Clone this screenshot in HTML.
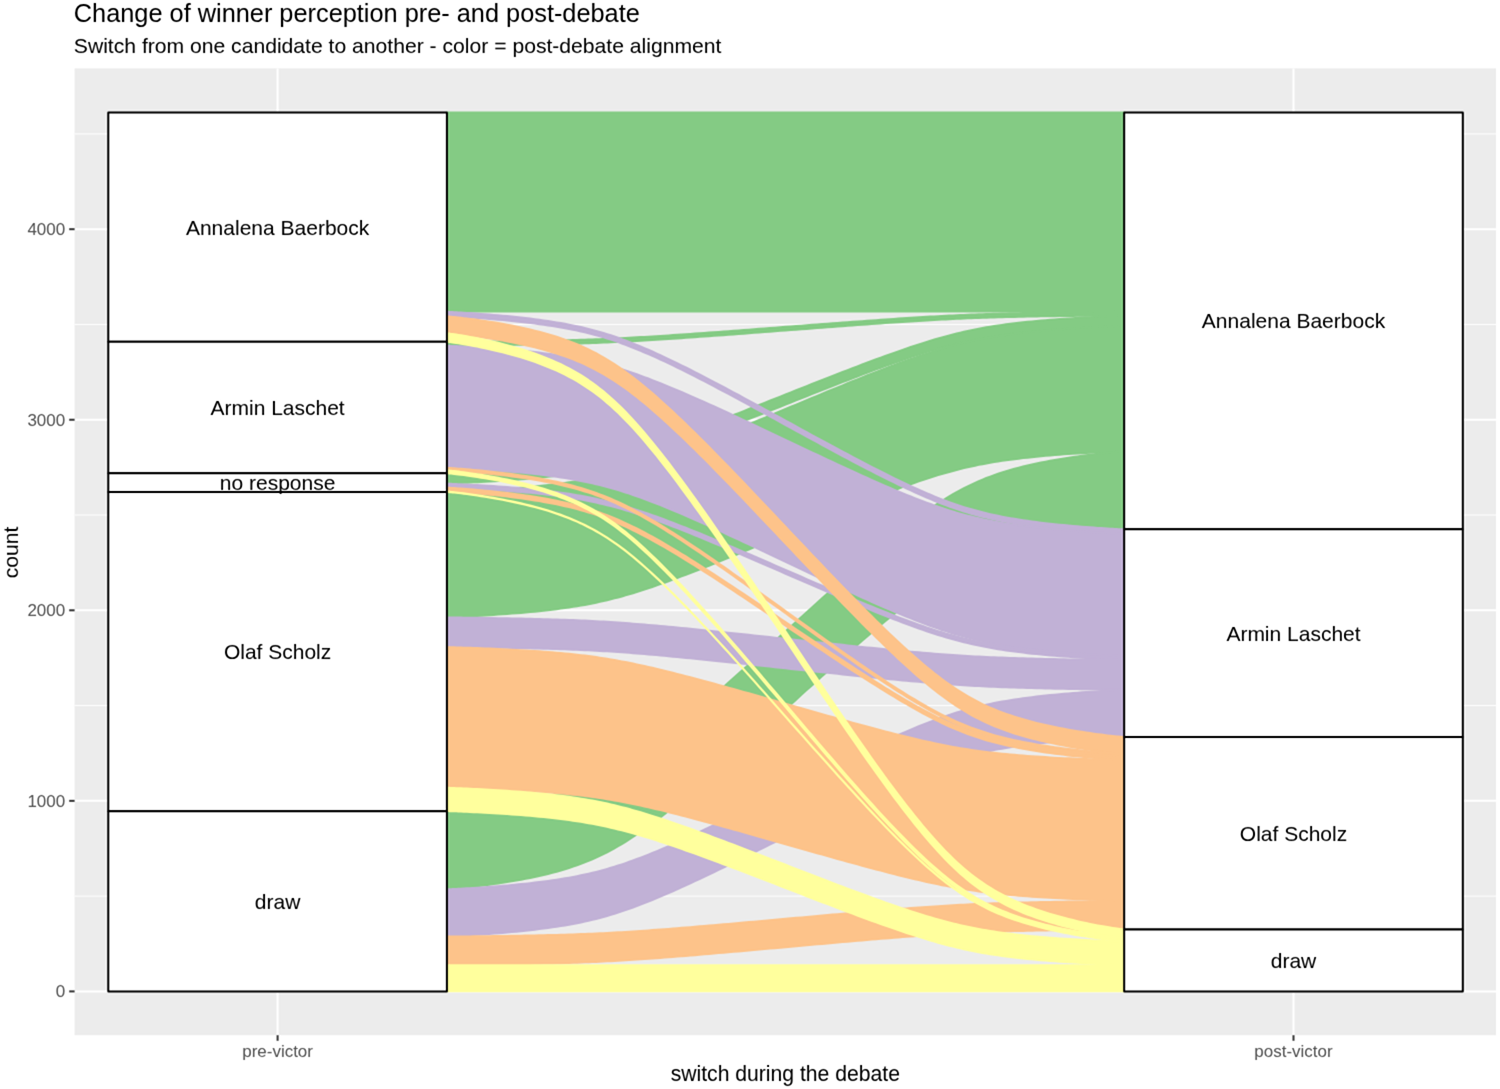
<!DOCTYPE html><html><head><meta charset="utf-8"><style>html,body{margin:0;padding:0;background:#fff;overflow:hidden;width:1500px;height:1089px;}svg{display:block;}text{font-family:"Liberation Sans",sans-serif;}</style></head><body>
<svg width="1500" height="1089" viewBox="0 0 1500 1089">
<defs><filter id="bl" x="0" y="0" width="1500" height="1089" filterUnits="userSpaceOnUse" color-interpolation-filters="sRGB"><feConvolveMatrix order="5" kernelMatrix="0.00250 -0.00850 -0.03800 -0.00850 0.00250 -0.00850 0.02890 0.12920 0.02890 -0.00850 -0.03800 0.12920 0.57760 0.12920 -0.03800 -0.00850 0.02890 0.12920 0.02890 -0.00850 0.00250 -0.00850 -0.03800 -0.00850 0.00250" divisor="1" edgeMode="duplicate"/></filter></defs>
<g filter="url(#bl)">
<rect x="0" y="0" width="1500" height="1089" fill="#fff"/>
<rect x="74.60" y="68.40" width="1421.40" height="966.80" fill="#ECECEC"/>
<line x1="74.60" x2="1496.00" y1="896.12" y2="896.12" stroke="#fff" stroke-width="1.0"/>
<line x1="74.60" x2="1496.00" y1="705.58" y2="705.58" stroke="#fff" stroke-width="1.0"/>
<line x1="74.60" x2="1496.00" y1="515.02" y2="515.02" stroke="#fff" stroke-width="1.0"/>
<line x1="74.60" x2="1496.00" y1="324.48" y2="324.48" stroke="#fff" stroke-width="1.0"/>
<line x1="74.60" x2="1496.00" y1="133.92" y2="133.92" stroke="#fff" stroke-width="1.0"/>
<line x1="74.60" x2="1496.00" y1="991.40" y2="991.40" stroke="#fff" stroke-width="2.0"/>
<line x1="74.60" x2="1496.00" y1="800.85" y2="800.85" stroke="#fff" stroke-width="2.0"/>
<line x1="74.60" x2="1496.00" y1="610.30" y2="610.30" stroke="#fff" stroke-width="2.0"/>
<line x1="74.60" x2="1496.00" y1="419.75" y2="419.75" stroke="#fff" stroke-width="2.0"/>
<line x1="74.60" x2="1496.00" y1="229.20" y2="229.20" stroke="#fff" stroke-width="2.0"/>
<line x1="277.60" x2="277.60" y1="68.40" y2="1035.20" stroke="#fff" stroke-width="2.0"/>
<line x1="1293.50" x2="1293.50" y1="68.40" y2="1035.20" stroke="#fff" stroke-width="2.0"/>
<path d="M446.92,112.39 L446.92,112.39 L446.97,112.39 L447.09,112.39 L447.32,112.39 L447.70,112.39 L448.24,112.39 L448.97,112.39 L449.92,112.39 L451.11,112.39 L452.55,112.39 L454.24,112.39 L456.21,112.39 L458.44,112.39 L460.94,112.39 L463.71,112.39 L466.73,112.39 L469.99,112.39 L473.48,112.39 L477.18,112.39 L481.07,112.39 L485.12,112.39 L489.33,112.39 L493.65,112.39 L498.07,112.39 L502.57,112.39 L507.13,112.39 L511.73,112.39 L516.34,112.39 L520.96,112.39 L525.57,112.39 L530.15,112.39 L534.70,112.39 L539.20,112.39 L543.65,112.39 L548.04,112.39 L552.37,112.39 L556.64,112.39 L560.84,112.39 L564.98,112.39 L569.06,112.39 L573.07,112.39 L577.02,112.39 L580.93,112.39 L584.78,112.39 L588.59,112.39 L592.35,112.39 L596.09,112.39 L599.79,112.39 L603.48,112.39 L607.15,112.39 L610.82,112.39 L614.48,112.39 L618.15,112.39 L621.83,112.39 L625.52,112.39 L629.24,112.39 L632.99,112.39 L636.77,112.39 L640.59,112.39 L644.45,112.39 L648.35,112.39 L652.30,112.39 L656.30,112.39 L660.35,112.39 L664.46,112.39 L668.62,112.39 L672.85,112.39 L677.14,112.39 L681.49,112.39 L685.90,112.39 L690.38,112.39 L694.93,112.39 L699.54,112.39 L704.21,112.39 L708.95,112.39 L713.74,112.39 L718.60,112.39 L723.51,112.39 L728.48,112.39 L733.49,112.39 L738.56,112.39 L743.66,112.39 L748.81,112.39 L753.99,112.39 L759.20,112.39 L764.44,112.39 L769.70,112.39 L774.97,112.39 L780.26,112.39 L785.55,112.39 L790.84,112.39 L796.13,112.39 L801.40,112.39 L806.66,112.39 L811.90,112.39 L817.11,112.39 L822.29,112.39 L827.44,112.39 L832.54,112.39 L837.61,112.39 L842.62,112.39 L847.59,112.39 L852.50,112.39 L857.36,112.39 L862.15,112.39 L866.89,112.39 L871.56,112.39 L876.17,112.39 L880.72,112.39 L885.20,112.39 L889.61,112.39 L893.96,112.39 L898.25,112.39 L902.48,112.39 L906.64,112.39 L910.75,112.39 L914.80,112.39 L918.80,112.39 L922.75,112.39 L926.65,112.39 L930.51,112.39 L934.33,112.39 L938.11,112.39 L941.86,112.39 L945.58,112.39 L949.27,112.39 L952.95,112.39 L956.62,112.39 L960.28,112.39 L963.95,112.39 L967.62,112.39 L971.31,112.39 L975.01,112.39 L978.75,112.39 L982.51,112.39 L986.32,112.39 L990.17,112.39 L994.08,112.39 L998.03,112.39 L1002.04,112.39 L1006.12,112.39 L1010.26,112.39 L1014.46,112.39 L1018.73,112.39 L1023.06,112.39 L1027.45,112.39 L1031.90,112.39 L1036.40,112.39 L1040.95,112.39 L1045.53,112.39 L1050.14,112.39 L1054.76,112.39 L1059.37,112.39 L1063.97,112.39 L1068.53,112.39 L1073.03,112.39 L1077.45,112.39 L1081.77,112.39 L1085.98,112.39 L1090.03,112.39 L1093.92,112.39 L1097.62,112.39 L1101.11,112.39 L1104.37,112.39 L1107.39,112.39 L1110.16,112.39 L1112.66,112.39 L1114.89,112.39 L1116.86,112.39 L1118.55,112.39 L1119.99,112.39 L1121.18,112.39 L1122.13,112.39 L1122.86,112.39 L1123.40,112.39 L1123.78,112.39 L1124.01,112.39 L1124.13,112.39 L1124.18,112.39 L1124.18,112.39 L1124.18,311.71 L1124.18,311.71 L1124.13,311.71 L1124.01,311.71 L1123.78,311.71 L1123.40,311.71 L1122.86,311.71 L1122.13,311.71 L1121.18,311.71 L1119.99,311.71 L1118.55,311.71 L1116.86,311.71 L1114.89,311.71 L1112.66,311.71 L1110.16,311.71 L1107.39,311.71 L1104.37,311.71 L1101.11,311.71 L1097.62,311.71 L1093.92,311.71 L1090.03,311.71 L1085.98,311.71 L1081.77,311.71 L1077.45,311.71 L1073.03,311.71 L1068.53,311.71 L1063.97,311.71 L1059.37,311.71 L1054.76,311.71 L1050.14,311.71 L1045.53,311.71 L1040.95,311.71 L1036.40,311.71 L1031.90,311.71 L1027.45,311.71 L1023.06,311.71 L1018.73,311.71 L1014.46,311.71 L1010.26,311.71 L1006.12,311.71 L1002.04,311.71 L998.03,311.71 L994.08,311.71 L990.17,311.71 L986.32,311.71 L982.51,311.71 L978.75,311.71 L975.01,311.71 L971.31,311.71 L967.62,311.71 L963.95,311.71 L960.28,311.71 L956.62,311.71 L952.95,311.71 L949.27,311.71 L945.58,311.71 L941.86,311.71 L938.11,311.71 L934.33,311.71 L930.51,311.71 L926.65,311.71 L922.75,311.71 L918.80,311.71 L914.80,311.71 L910.75,311.71 L906.64,311.71 L902.48,311.71 L898.25,311.71 L893.96,311.71 L889.61,311.71 L885.20,311.71 L880.72,311.71 L876.17,311.71 L871.56,311.71 L866.89,311.71 L862.15,311.71 L857.36,311.71 L852.50,311.71 L847.59,311.71 L842.62,311.71 L837.61,311.71 L832.54,311.71 L827.44,311.71 L822.29,311.71 L817.11,311.71 L811.90,311.71 L806.66,311.71 L801.40,311.71 L796.13,311.71 L790.84,311.71 L785.55,311.71 L780.26,311.71 L774.97,311.71 L769.70,311.71 L764.44,311.71 L759.20,311.71 L753.99,311.71 L748.81,311.71 L743.66,311.71 L738.56,311.71 L733.49,311.71 L728.48,311.71 L723.51,311.71 L718.60,311.71 L713.74,311.71 L708.95,311.71 L704.21,311.71 L699.54,311.71 L694.93,311.71 L690.38,311.71 L685.90,311.71 L681.49,311.71 L677.14,311.71 L672.85,311.71 L668.62,311.71 L664.46,311.71 L660.35,311.71 L656.30,311.71 L652.30,311.71 L648.35,311.71 L644.45,311.71 L640.59,311.71 L636.77,311.71 L632.99,311.71 L629.24,311.71 L625.52,311.71 L621.83,311.71 L618.15,311.71 L614.48,311.71 L610.82,311.71 L607.15,311.71 L603.48,311.71 L599.79,311.71 L596.09,311.71 L592.35,311.71 L588.59,311.71 L584.78,311.71 L580.93,311.71 L577.02,311.71 L573.07,311.71 L569.06,311.71 L564.98,311.71 L560.84,311.71 L556.64,311.71 L552.37,311.71 L548.04,311.71 L543.65,311.71 L539.20,311.71 L534.70,311.71 L530.15,311.71 L525.57,311.71 L520.96,311.71 L516.34,311.71 L511.73,311.71 L507.13,311.71 L502.57,311.71 L498.07,311.71 L493.65,311.71 L489.33,311.71 L485.12,311.71 L481.07,311.71 L477.18,311.71 L473.48,311.71 L469.99,311.71 L466.73,311.71 L463.71,311.71 L460.94,311.71 L458.44,311.71 L456.21,311.71 L454.24,311.71 L452.55,311.71 L451.11,311.71 L449.92,311.71 L448.97,311.71 L448.24,311.71 L447.70,311.71 L447.32,311.71 L447.09,311.71 L446.97,311.71 L446.92,311.71 L446.92,311.71Z" fill="#84CB84" stroke="#84CB84" stroke-width="1.80" stroke-linejoin="round"/>
<path d="M446.92,341.82 L446.92,341.82 L446.97,341.81 L447.09,341.81 L447.32,341.81 L447.70,341.81 L448.24,341.81 L448.97,341.80 L449.92,341.80 L451.11,341.79 L452.55,341.78 L454.24,341.77 L456.21,341.75 L458.44,341.73 L460.94,341.71 L463.71,341.69 L466.73,341.66 L469.99,341.64 L473.48,341.60 L477.18,341.57 L481.07,341.53 L485.12,341.48 L489.33,341.44 L493.65,341.39 L498.07,341.34 L502.57,341.28 L507.13,341.22 L511.73,341.16 L516.34,341.09 L520.96,341.02 L525.57,340.95 L530.15,340.87 L534.70,340.80 L539.20,340.71 L543.65,340.63 L548.04,340.54 L552.37,340.45 L556.64,340.35 L560.84,340.25 L564.98,340.15 L569.06,340.04 L573.07,339.93 L577.02,339.82 L580.93,339.70 L584.78,339.58 L588.59,339.45 L592.35,339.31 L596.09,339.18 L599.79,339.03 L603.48,338.88 L607.15,338.73 L610.82,338.57 L614.48,338.40 L618.15,338.22 L621.83,338.04 L625.52,337.85 L629.24,337.66 L632.99,337.45 L636.77,337.24 L640.59,337.02 L644.45,336.80 L648.35,336.56 L652.30,336.32 L656.30,336.07 L660.35,335.82 L664.46,335.55 L668.62,335.28 L672.85,335.00 L677.14,334.71 L681.49,334.42 L685.90,334.11 L690.38,333.80 L694.93,333.48 L699.54,333.15 L704.21,332.82 L708.95,332.48 L713.74,332.13 L718.60,331.78 L723.51,331.42 L728.48,331.05 L733.49,330.68 L738.56,330.30 L743.66,329.92 L748.81,329.54 L753.99,329.15 L759.20,328.75 L764.44,328.36 L769.70,327.96 L774.97,327.56 L780.26,327.16 L785.55,326.76 L790.84,326.36 L796.13,325.96 L801.40,325.56 L806.66,325.16 L811.90,324.77 L817.11,324.38 L822.29,323.99 L827.44,323.60 L832.54,323.22 L837.61,322.84 L842.62,322.47 L847.59,322.11 L852.50,321.75 L857.36,321.39 L862.15,321.04 L866.89,320.70 L871.56,320.37 L876.17,320.04 L880.72,319.72 L885.20,319.41 L889.61,319.11 L893.96,318.81 L898.25,318.52 L902.48,318.24 L906.64,317.97 L910.75,317.71 L914.80,317.45 L918.80,317.20 L922.75,316.96 L926.65,316.73 L930.51,316.50 L934.33,316.28 L938.11,316.07 L941.86,315.87 L945.58,315.67 L949.27,315.48 L952.95,315.30 L956.62,315.13 L960.28,314.96 L963.95,314.80 L967.62,314.64 L971.31,314.49 L975.01,314.35 L978.75,314.21 L982.51,314.08 L986.32,313.95 L990.17,313.82 L994.08,313.70 L998.03,313.59 L1002.04,313.48 L1006.12,313.37 L1010.26,313.27 L1014.46,313.17 L1018.73,313.08 L1023.06,312.98 L1027.45,312.89 L1031.90,312.81 L1036.40,312.73 L1040.95,312.65 L1045.53,312.57 L1050.14,312.50 L1054.76,312.43 L1059.37,312.37 L1063.97,312.30 L1068.53,312.24 L1073.03,312.19 L1077.45,312.13 L1081.77,312.08 L1085.98,312.04 L1090.03,312.00 L1093.92,311.96 L1097.62,311.92 L1101.11,311.89 L1104.37,311.86 L1107.39,311.83 L1110.16,311.81 L1112.66,311.79 L1114.89,311.77 L1116.86,311.76 L1118.55,311.74 L1119.99,311.73 L1121.18,311.73 L1122.13,311.72 L1122.86,311.72 L1123.40,311.71 L1123.78,311.71 L1124.01,311.71 L1124.13,311.71 L1124.18,311.71 L1124.18,311.71 L1124.18,315.52 L1124.18,315.52 L1124.13,315.52 L1124.01,315.52 L1123.78,315.52 L1123.40,315.52 L1122.86,315.53 L1122.13,315.53 L1121.18,315.54 L1119.99,315.55 L1118.55,315.56 L1116.86,315.57 L1114.89,315.58 L1112.66,315.60 L1110.16,315.62 L1107.39,315.64 L1104.37,315.67 L1101.11,315.70 L1097.62,315.73 L1093.92,315.77 L1090.03,315.81 L1085.98,315.85 L1081.77,315.90 L1077.45,315.95 L1073.03,316.00 L1068.53,316.05 L1063.97,316.11 L1059.37,316.18 L1054.76,316.24 L1050.14,316.31 L1045.53,316.38 L1040.95,316.46 L1036.40,316.54 L1031.90,316.62 L1027.45,316.71 L1023.06,316.79 L1018.73,316.89 L1014.46,316.98 L1010.26,317.08 L1006.12,317.18 L1002.04,317.29 L998.03,317.40 L994.08,317.52 L990.17,317.63 L986.32,317.76 L982.51,317.89 L978.75,318.02 L975.01,318.16 L971.31,318.30 L967.62,318.45 L963.95,318.61 L960.28,318.77 L956.62,318.94 L952.95,319.11 L949.27,319.29 L945.58,319.48 L941.86,319.68 L938.11,319.88 L934.33,320.09 L930.51,320.31 L926.65,320.54 L922.75,320.77 L918.80,321.01 L914.80,321.26 L910.75,321.52 L906.64,321.78 L902.48,322.05 L898.25,322.33 L893.96,322.62 L889.61,322.92 L885.20,323.22 L880.72,323.53 L876.17,323.85 L871.56,324.18 L866.89,324.51 L862.15,324.85 L857.36,325.20 L852.50,325.56 L847.59,325.92 L842.62,326.28 L837.61,326.65 L832.54,327.03 L827.44,327.41 L822.29,327.80 L817.11,328.19 L811.90,328.58 L806.66,328.98 L801.40,329.37 L796.13,329.77 L790.84,330.17 L785.55,330.57 L780.26,330.97 L774.97,331.37 L769.70,331.77 L764.44,332.17 L759.20,332.57 L753.99,332.96 L748.81,333.35 L743.66,333.73 L738.56,334.11 L733.49,334.49 L728.48,334.86 L723.51,335.23 L718.60,335.59 L713.74,335.94 L708.95,336.29 L704.21,336.63 L699.54,336.96 L694.93,337.29 L690.38,337.61 L685.90,337.92 L681.49,338.23 L677.14,338.52 L672.85,338.81 L668.62,339.09 L664.46,339.36 L660.35,339.63 L656.30,339.88 L652.30,340.13 L648.35,340.37 L644.45,340.61 L640.59,340.83 L636.77,341.05 L632.99,341.26 L629.24,341.47 L625.52,341.66 L621.83,341.85 L618.15,342.03 L614.48,342.21 L610.82,342.38 L607.15,342.54 L603.48,342.69 L599.79,342.84 L596.09,342.99 L592.35,343.13 L588.59,343.26 L584.78,343.39 L580.93,343.51 L577.02,343.63 L573.07,343.74 L569.06,343.86 L564.98,343.96 L560.84,344.06 L556.64,344.16 L552.37,344.26 L548.04,344.35 L543.65,344.44 L539.20,344.53 L534.70,344.61 L530.15,344.69 L525.57,344.76 L520.96,344.83 L516.34,344.90 L511.73,344.97 L507.13,345.03 L502.57,345.09 L498.07,345.15 L493.65,345.20 L489.33,345.25 L485.12,345.30 L481.07,345.34 L477.18,345.38 L473.48,345.41 L469.99,345.45 L466.73,345.48 L463.71,345.50 L460.94,345.52 L458.44,345.54 L456.21,345.56 L454.24,345.58 L452.55,345.59 L451.11,345.60 L449.92,345.61 L448.97,345.61 L448.24,345.62 L447.70,345.62 L447.32,345.62 L447.09,345.63 L446.97,345.63 L446.92,345.63 L446.92,345.63Z" fill="#84CB84" stroke="#84CB84" stroke-width="1.80" stroke-linejoin="round"/>
<path d="M446.92,473.29 L446.92,473.29 L446.97,473.29 L447.09,473.29 L447.32,473.28 L447.70,473.27 L448.24,473.25 L448.97,473.23 L449.92,473.20 L451.11,473.15 L452.55,473.10 L454.24,473.04 L456.21,472.96 L458.44,472.87 L460.94,472.76 L463.71,472.64 L466.73,472.51 L469.99,472.35 L473.48,472.18 L477.18,471.99 L481.07,471.79 L485.12,471.56 L489.33,471.32 L493.65,471.06 L498.07,470.79 L502.57,470.49 L507.13,470.18 L511.73,469.85 L516.34,469.51 L520.96,469.14 L525.57,468.76 L530.15,468.37 L534.70,467.95 L539.20,467.52 L543.65,467.08 L548.04,466.61 L552.37,466.13 L556.64,465.63 L560.84,465.11 L564.98,464.57 L569.06,464.01 L573.07,463.43 L577.02,462.83 L580.93,462.21 L584.78,461.56 L588.59,460.89 L592.35,460.19 L596.09,459.47 L599.79,458.71 L603.48,457.93 L607.15,457.11 L610.82,456.27 L614.48,455.39 L618.15,454.47 L621.83,453.52 L625.52,452.53 L629.24,451.50 L632.99,450.44 L636.77,449.33 L640.59,448.18 L644.45,447.00 L648.35,445.77 L652.30,444.51 L656.30,443.20 L660.35,441.86 L664.46,440.47 L668.62,439.05 L672.85,437.58 L677.14,436.07 L681.49,434.51 L685.90,432.92 L690.38,431.29 L694.93,429.62 L699.54,427.91 L704.21,426.16 L708.95,424.37 L713.74,422.55 L718.60,420.69 L723.51,418.81 L728.48,416.89 L733.49,414.94 L738.56,412.97 L743.66,410.97 L748.81,408.95 L753.99,406.91 L759.20,404.85 L764.44,402.78 L769.70,400.70 L774.97,398.60 L780.26,396.51 L785.55,394.41 L790.84,392.31 L796.13,390.21 L801.40,388.12 L806.66,386.03 L811.90,383.96 L817.11,381.91 L822.29,379.87 L827.44,377.85 L832.54,375.85 L837.61,373.87 L842.62,371.93 L847.59,370.01 L852.50,368.12 L857.36,366.26 L862.15,364.44 L866.89,362.66 L871.56,360.91 L876.17,359.20 L880.72,357.52 L885.20,355.89 L889.61,354.30 L893.96,352.75 L898.25,351.24 L902.48,349.77 L906.64,348.34 L910.75,346.95 L914.80,345.61 L918.80,344.30 L922.75,343.04 L926.65,341.82 L930.51,340.63 L934.33,339.48 L938.11,338.38 L941.86,337.31 L945.58,336.28 L949.27,335.29 L952.95,334.34 L956.62,333.43 L960.28,332.55 L963.95,331.70 L967.62,330.88 L971.31,330.10 L975.01,329.35 L978.75,328.62 L982.51,327.92 L986.32,327.25 L990.17,326.60 L994.08,325.98 L998.03,325.38 L1002.04,324.80 L1006.12,324.24 L1010.26,323.70 L1014.46,323.18 L1018.73,322.68 L1023.06,322.20 L1027.45,321.74 L1031.90,321.29 L1036.40,320.86 L1040.95,320.45 L1045.53,320.05 L1050.14,319.67 L1054.76,319.31 L1059.37,318.96 L1063.97,318.63 L1068.53,318.32 L1073.03,318.03 L1077.45,317.75 L1081.77,317.49 L1085.98,317.25 L1090.03,317.03 L1093.92,316.82 L1097.62,316.63 L1101.11,316.46 L1104.37,316.31 L1107.39,316.17 L1110.16,316.05 L1112.66,315.94 L1114.89,315.85 L1116.86,315.78 L1118.55,315.71 L1119.99,315.66 L1121.18,315.62 L1122.13,315.58 L1122.86,315.56 L1123.40,315.54 L1123.78,315.53 L1124.01,315.52 L1124.13,315.52 L1124.18,315.52 L1124.18,315.52 L1124.18,325.81 L1124.18,325.81 L1124.13,325.81 L1124.01,325.81 L1123.78,325.82 L1123.40,325.83 L1122.86,325.85 L1122.13,325.87 L1121.18,325.91 L1119.99,325.95 L1118.55,326.00 L1116.86,326.07 L1114.89,326.14 L1112.66,326.23 L1110.16,326.34 L1107.39,326.46 L1104.37,326.60 L1101.11,326.75 L1097.62,326.92 L1093.92,327.11 L1090.03,327.32 L1085.98,327.54 L1081.77,327.78 L1077.45,328.04 L1073.03,328.32 L1068.53,328.61 L1063.97,328.92 L1059.37,329.25 L1054.76,329.60 L1050.14,329.96 L1045.53,330.34 L1040.95,330.74 L1036.40,331.15 L1031.90,331.58 L1027.45,332.03 L1023.06,332.49 L1018.73,332.97 L1014.46,333.47 L1010.26,333.99 L1006.12,334.53 L1002.04,335.09 L998.03,335.67 L994.08,336.27 L990.17,336.89 L986.32,337.54 L982.51,338.21 L978.75,338.91 L975.01,339.64 L971.31,340.39 L967.62,341.17 L963.95,341.99 L960.28,342.84 L956.62,343.72 L952.95,344.63 L949.27,345.58 L945.58,346.57 L941.86,347.60 L938.11,348.67 L934.33,349.77 L930.51,350.92 L926.65,352.10 L922.75,353.33 L918.80,354.59 L914.80,355.90 L910.75,357.24 L906.64,358.63 L902.48,360.06 L898.25,361.53 L893.96,363.04 L889.61,364.59 L885.20,366.18 L880.72,367.81 L876.17,369.49 L871.56,371.20 L866.89,372.95 L862.15,374.73 L857.36,376.55 L852.50,378.41 L847.59,380.30 L842.62,382.22 L837.61,384.16 L832.54,386.14 L827.44,388.14 L822.29,390.16 L817.11,392.20 L811.90,394.25 L806.66,396.32 L801.40,398.41 L796.13,400.50 L790.84,402.60 L785.55,404.70 L780.26,406.80 L774.97,408.89 L769.70,410.99 L764.44,413.07 L759.20,415.14 L753.99,417.20 L748.81,419.24 L743.66,421.26 L738.56,423.26 L733.49,425.23 L728.48,427.18 L723.51,429.10 L718.60,430.98 L713.74,432.84 L708.95,434.66 L704.21,436.45 L699.54,438.20 L694.93,439.91 L690.38,441.58 L685.90,443.21 L681.49,444.80 L677.14,446.36 L672.85,447.87 L668.62,449.34 L664.46,450.76 L660.35,452.15 L656.30,453.49 L652.30,454.80 L648.35,456.06 L644.45,457.29 L640.59,458.47 L636.77,459.62 L632.99,460.73 L629.24,461.79 L625.52,462.82 L621.83,463.81 L618.15,464.76 L614.48,465.68 L610.82,466.56 L607.15,467.40 L603.48,468.22 L599.79,469.00 L596.09,469.76 L592.35,470.48 L588.59,471.18 L584.78,471.85 L580.93,472.50 L577.02,473.12 L573.07,473.72 L569.06,474.30 L564.98,474.86 L560.84,475.40 L556.64,475.92 L552.37,476.42 L548.04,476.90 L543.65,477.37 L539.20,477.81 L534.70,478.24 L530.15,478.66 L525.57,479.05 L520.96,479.43 L516.34,479.80 L511.73,480.14 L507.13,480.47 L502.57,480.78 L498.07,481.08 L493.65,481.35 L489.33,481.61 L485.12,481.85 L481.07,482.08 L477.18,482.28 L473.48,482.47 L469.99,482.64 L466.73,482.80 L463.71,482.93 L460.94,483.05 L458.44,483.16 L456.21,483.25 L454.24,483.33 L452.55,483.39 L451.11,483.44 L449.92,483.49 L448.97,483.52 L448.24,483.54 L447.70,483.56 L447.32,483.57 L447.09,483.58 L446.97,483.58 L446.92,483.58 L446.92,483.58Z" fill="#84CB84" stroke="#84CB84" stroke-width="1.80" stroke-linejoin="round"/>
<path d="M446.92,491.97 L446.92,491.97 L446.97,491.97 L447.09,491.96 L447.32,491.96 L447.70,491.94 L448.24,491.93 L448.97,491.90 L449.92,491.87 L451.11,491.82 L452.55,491.77 L454.24,491.70 L456.21,491.62 L458.44,491.52 L460.94,491.41 L463.71,491.28 L466.73,491.14 L469.99,490.98 L473.48,490.80 L477.18,490.60 L481.07,490.38 L485.12,490.14 L489.33,489.89 L493.65,489.62 L498.07,489.33 L502.57,489.02 L507.13,488.69 L511.73,488.34 L516.34,487.98 L520.96,487.60 L525.57,487.20 L530.15,486.78 L534.70,486.34 L539.20,485.89 L543.65,485.42 L548.04,484.93 L552.37,484.42 L556.64,483.90 L560.84,483.35 L564.98,482.78 L569.06,482.19 L573.07,481.58 L577.02,480.95 L580.93,480.29 L584.78,479.61 L588.59,478.90 L592.35,478.17 L596.09,477.41 L599.79,476.61 L603.48,475.79 L607.15,474.93 L610.82,474.04 L614.48,473.11 L618.15,472.15 L621.83,471.14 L625.52,470.10 L629.24,469.02 L632.99,467.90 L636.77,466.73 L640.59,465.52 L644.45,464.28 L648.35,462.99 L652.30,461.65 L656.30,460.28 L660.35,458.86 L664.46,457.40 L668.62,455.90 L672.85,454.35 L677.14,452.76 L681.49,451.13 L685.90,449.45 L690.38,447.73 L694.93,445.97 L699.54,444.17 L704.21,442.33 L708.95,440.45 L713.74,438.53 L718.60,436.57 L723.51,434.58 L728.48,432.56 L733.49,430.51 L738.56,428.43 L743.66,426.33 L748.81,424.20 L753.99,422.05 L759.20,419.89 L764.44,417.71 L769.70,415.51 L774.97,413.31 L780.26,411.10 L785.55,408.89 L790.84,406.68 L796.13,404.47 L801.40,402.27 L806.66,400.07 L811.90,397.89 L817.11,395.72 L822.29,393.58 L827.44,391.45 L832.54,389.34 L837.61,387.26 L842.62,385.21 L847.59,383.19 L852.50,381.20 L857.36,379.25 L862.15,377.33 L866.89,375.45 L871.56,373.61 L876.17,371.81 L880.72,370.05 L885.20,368.33 L889.61,366.65 L893.96,365.02 L898.25,363.43 L902.48,361.88 L906.64,360.37 L910.75,358.91 L914.80,357.50 L918.80,356.12 L922.75,354.79 L926.65,353.50 L930.51,352.25 L934.33,351.05 L938.11,349.88 L941.86,348.76 L945.58,347.68 L949.27,346.63 L952.95,345.63 L956.62,344.67 L960.28,343.74 L963.95,342.85 L967.62,341.99 L971.31,341.17 L975.01,340.37 L978.75,339.61 L982.51,338.87 L986.32,338.17 L990.17,337.48 L994.08,336.83 L998.03,336.19 L1002.04,335.58 L1006.12,334.99 L1010.26,334.43 L1014.46,333.88 L1018.73,333.35 L1023.06,332.85 L1027.45,332.36 L1031.90,331.89 L1036.40,331.43 L1040.95,331.00 L1045.53,330.58 L1050.14,330.18 L1054.76,329.80 L1059.37,329.43 L1063.97,329.09 L1068.53,328.76 L1073.03,328.45 L1077.45,328.16 L1081.77,327.89 L1085.98,327.63 L1090.03,327.40 L1093.92,327.18 L1097.62,326.98 L1101.11,326.80 L1104.37,326.64 L1107.39,326.50 L1110.16,326.37 L1112.66,326.26 L1114.89,326.16 L1116.86,326.08 L1118.55,326.01 L1119.99,325.96 L1121.18,325.91 L1122.13,325.88 L1122.86,325.85 L1123.40,325.83 L1123.78,325.82 L1124.01,325.81 L1124.13,325.81 L1124.18,325.81 L1124.18,325.81 L1124.18,451.19 L1124.18,451.19 L1124.13,451.19 L1124.01,451.20 L1123.78,451.20 L1123.40,451.22 L1122.86,451.23 L1122.13,451.26 L1121.18,451.29 L1119.99,451.34 L1118.55,451.39 L1116.86,451.46 L1114.89,451.54 L1112.66,451.64 L1110.16,451.75 L1107.39,451.88 L1104.37,452.02 L1101.11,452.18 L1097.62,452.36 L1093.92,452.56 L1090.03,452.78 L1085.98,453.01 L1081.77,453.27 L1077.45,453.54 L1073.03,453.83 L1068.53,454.14 L1063.97,454.47 L1059.37,454.82 L1054.76,455.18 L1050.14,455.56 L1045.53,455.96 L1040.95,456.38 L1036.40,456.81 L1031.90,457.27 L1027.45,457.74 L1023.06,458.23 L1018.73,458.74 L1014.46,459.26 L1010.26,459.81 L1006.12,460.38 L1002.04,460.96 L998.03,461.58 L994.08,462.21 L990.17,462.87 L986.32,463.55 L982.51,464.26 L978.75,464.99 L975.01,465.75 L971.31,466.55 L967.62,467.37 L963.95,468.23 L960.28,469.12 L956.62,470.05 L952.95,471.01 L949.27,472.02 L945.58,473.06 L941.86,474.14 L938.11,475.26 L934.33,476.43 L930.51,477.64 L926.65,478.88 L922.75,480.17 L918.80,481.51 L914.80,482.88 L910.75,484.30 L906.64,485.76 L902.48,487.26 L898.25,488.81 L893.96,490.40 L889.61,492.03 L885.20,493.71 L880.72,495.43 L876.17,497.19 L871.56,498.99 L866.89,500.83 L862.15,502.71 L857.36,504.63 L852.50,506.59 L847.59,508.57 L842.62,510.60 L837.61,512.65 L832.54,514.73 L827.44,516.83 L822.29,518.96 L817.11,521.11 L811.90,523.27 L806.66,525.45 L801.40,527.65 L796.13,529.85 L790.84,532.06 L785.55,534.27 L780.26,536.48 L774.97,538.69 L769.70,540.89 L764.44,543.09 L759.20,545.27 L753.99,547.44 L748.81,549.58 L743.66,551.71 L738.56,553.82 L733.49,555.89 L728.48,557.95 L723.51,559.97 L718.60,561.95 L713.74,563.91 L708.95,565.83 L704.21,567.71 L699.54,569.55 L694.93,571.35 L690.38,573.11 L685.90,574.83 L681.49,576.51 L677.14,578.14 L672.85,579.73 L668.62,581.28 L664.46,582.78 L660.35,584.24 L656.30,585.66 L652.30,587.04 L648.35,588.37 L644.45,589.66 L640.59,590.91 L636.77,592.11 L632.99,593.28 L629.24,594.40 L625.52,595.48 L621.83,596.52 L618.15,597.53 L614.48,598.49 L610.82,599.42 L607.15,600.31 L603.48,601.17 L599.79,601.99 L596.09,602.79 L592.35,603.55 L588.59,604.29 L584.78,604.99 L580.93,605.68 L577.02,606.33 L573.07,606.97 L569.06,607.58 L564.98,608.16 L560.84,608.73 L556.64,609.28 L552.37,609.81 L548.04,610.31 L543.65,610.80 L539.20,611.27 L534.70,611.73 L530.15,612.16 L525.57,612.58 L520.96,612.98 L516.34,613.36 L511.73,613.72 L507.13,614.07 L502.57,614.40 L498.07,614.71 L493.65,615.00 L489.33,615.27 L485.12,615.53 L481.07,615.76 L477.18,615.98 L473.48,616.18 L469.99,616.36 L466.73,616.52 L463.71,616.66 L460.94,616.79 L458.44,616.90 L456.21,617.00 L454.24,617.08 L452.55,617.15 L451.11,617.20 L449.92,617.25 L448.97,617.28 L448.24,617.31 L447.70,617.33 L447.32,617.34 L447.09,617.35 L446.97,617.35 L446.92,617.35 L446.92,617.35Z" fill="#84CB84" stroke="#84CB84" stroke-width="1.80" stroke-linejoin="round"/>
<path d="M446.92,811.14 L446.92,811.14 L446.97,811.14 L447.09,811.13 L447.32,811.11 L447.70,811.09 L448.24,811.05 L448.97,810.99 L449.92,810.92 L451.11,810.82 L452.55,810.70 L454.24,810.55 L456.21,810.38 L458.44,810.17 L460.94,809.93 L463.71,809.65 L466.73,809.34 L469.99,808.99 L473.48,808.60 L477.18,808.17 L481.07,807.70 L485.12,807.19 L489.33,806.64 L493.65,806.05 L498.07,805.42 L502.57,804.74 L507.13,804.03 L511.73,803.28 L516.34,802.50 L520.96,801.67 L525.57,800.80 L530.15,799.90 L534.70,798.96 L539.20,797.98 L543.65,796.96 L548.04,795.90 L552.37,794.80 L556.64,793.65 L560.84,792.47 L564.98,791.24 L569.06,789.97 L573.07,788.64 L577.02,787.27 L580.93,785.85 L584.78,784.37 L588.59,782.84 L592.35,781.25 L596.09,779.59 L599.79,777.87 L603.48,776.08 L607.15,774.23 L610.82,772.29 L614.48,770.29 L618.15,768.20 L621.83,766.03 L625.52,763.77 L629.24,761.42 L632.99,758.99 L636.77,756.47 L640.59,753.85 L644.45,751.15 L648.35,748.35 L652.30,745.47 L656.30,742.49 L660.35,739.42 L664.46,736.26 L668.62,733.00 L672.85,729.65 L677.14,726.21 L681.49,722.67 L685.90,719.03 L690.38,715.31 L694.93,711.49 L699.54,707.59 L704.21,703.60 L708.95,699.53 L713.74,695.37 L718.60,691.14 L723.51,686.83 L728.48,682.45 L733.49,678.01 L738.56,673.51 L743.66,668.95 L748.81,664.34 L753.99,659.68 L759.20,654.99 L764.44,650.27 L769.70,645.51 L774.97,640.74 L780.26,635.96 L785.55,631.17 L790.84,626.37 L796.13,621.59 L801.40,616.82 L806.66,612.07 L811.90,607.34 L817.11,602.65 L822.29,597.99 L827.44,593.38 L832.54,588.82 L837.61,584.32 L842.62,579.88 L847.59,575.50 L852.50,571.19 L857.36,566.96 L862.15,562.80 L866.89,558.73 L871.56,554.74 L876.17,550.84 L880.72,547.02 L885.20,543.30 L889.61,539.66 L893.96,536.12 L898.25,532.68 L902.48,529.33 L906.64,526.07 L910.75,522.91 L914.80,519.84 L918.80,516.86 L922.75,513.98 L926.65,511.18 L930.51,508.48 L934.33,505.86 L938.11,503.34 L941.86,500.91 L945.58,498.56 L949.27,496.31 L952.95,494.13 L956.62,492.05 L960.28,490.04 L963.95,488.10 L967.62,486.25 L971.31,484.46 L975.01,482.74 L978.75,481.08 L982.51,479.49 L986.32,477.96 L990.17,476.48 L994.08,475.06 L998.03,473.69 L1002.04,472.36 L1006.12,471.09 L1010.26,469.86 L1014.46,468.68 L1018.73,467.53 L1023.06,466.43 L1027.45,465.37 L1031.90,464.35 L1036.40,463.37 L1040.95,462.43 L1045.53,461.53 L1050.14,460.66 L1054.76,459.83 L1059.37,459.05 L1063.97,458.30 L1068.53,457.59 L1073.03,456.91 L1077.45,456.28 L1081.77,455.69 L1085.98,455.14 L1090.03,454.63 L1093.92,454.16 L1097.62,453.73 L1101.11,453.34 L1104.37,452.99 L1107.39,452.68 L1110.16,452.40 L1112.66,452.16 L1114.89,451.95 L1116.86,451.78 L1118.55,451.63 L1119.99,451.51 L1121.18,451.41 L1122.13,451.34 L1122.86,451.28 L1123.40,451.24 L1123.78,451.22 L1124.01,451.20 L1124.13,451.19 L1124.18,451.19 L1124.18,451.19 L1124.18,529.32 L1124.18,529.32 L1124.13,529.32 L1124.01,529.33 L1123.78,529.34 L1123.40,529.37 L1122.86,529.41 L1122.13,529.46 L1121.18,529.54 L1119.99,529.63 L1118.55,529.76 L1116.86,529.90 L1114.89,530.08 L1112.66,530.29 L1110.16,530.53 L1107.39,530.80 L1104.37,531.12 L1101.11,531.47 L1097.62,531.86 L1093.92,532.29 L1090.03,532.76 L1085.98,533.27 L1081.77,533.82 L1077.45,534.41 L1073.03,535.04 L1068.53,535.71 L1063.97,536.42 L1059.37,537.17 L1054.76,537.96 L1050.14,538.79 L1045.53,539.65 L1040.95,540.56 L1036.40,541.50 L1031.90,542.48 L1027.45,543.50 L1023.06,544.56 L1018.73,545.66 L1014.46,546.80 L1010.26,547.99 L1006.12,549.22 L1002.04,550.49 L998.03,551.81 L994.08,553.18 L990.17,554.61 L986.32,556.08 L982.51,557.62 L978.75,559.21 L975.01,560.86 L971.31,562.58 L967.62,564.37 L963.95,566.23 L960.28,568.16 L956.62,570.17 L952.95,572.26 L949.27,574.43 L945.58,576.69 L941.86,579.03 L938.11,581.46 L934.33,583.99 L930.51,586.60 L926.65,589.31 L922.75,592.10 L918.80,594.99 L914.80,597.96 L910.75,601.03 L906.64,604.20 L902.48,607.45 L898.25,610.80 L893.96,614.25 L889.61,617.79 L885.20,621.42 L880.72,625.15 L876.17,628.96 L871.56,632.87 L866.89,636.86 L862.15,640.93 L857.36,645.09 L852.50,649.32 L847.59,653.63 L842.62,658.00 L837.61,662.45 L832.54,666.95 L827.44,671.51 L822.29,676.12 L817.11,680.77 L811.90,685.47 L806.66,690.19 L801.40,694.94 L796.13,699.71 L790.84,704.50 L785.55,709.29 L780.26,714.08 L774.97,718.87 L769.70,723.64 L764.44,728.39 L759.20,733.12 L753.99,737.81 L748.81,742.46 L743.66,747.07 L738.56,751.63 L733.49,756.14 L728.48,760.58 L723.51,764.95 L718.60,769.26 L713.74,773.50 L708.95,777.65 L704.21,781.73 L699.54,785.72 L694.93,789.62 L690.38,793.44 L685.90,797.16 L681.49,800.79 L677.14,804.33 L672.85,807.78 L668.62,811.13 L664.46,814.39 L660.35,817.55 L656.30,820.62 L652.30,823.59 L648.35,826.48 L644.45,829.27 L640.59,831.98 L636.77,834.59 L632.99,837.12 L629.24,839.55 L625.52,841.89 L621.83,844.15 L618.15,846.32 L614.48,848.41 L610.82,850.42 L607.15,852.35 L603.48,854.21 L599.79,856.00 L596.09,857.72 L592.35,859.37 L588.59,860.96 L584.78,862.50 L580.93,863.98 L577.02,865.40 L573.07,866.77 L569.06,868.09 L564.98,869.37 L560.84,870.59 L556.64,871.78 L552.37,872.92 L548.04,874.02 L543.65,875.08 L539.20,876.10 L534.70,877.08 L530.15,878.03 L525.57,878.93 L520.96,879.79 L516.34,880.62 L511.73,881.41 L507.13,882.16 L502.57,882.87 L498.07,883.54 L493.65,884.17 L489.33,884.76 L485.12,885.31 L481.07,885.83 L477.18,886.29 L473.48,886.72 L469.99,887.11 L466.73,887.47 L463.71,887.78 L460.94,888.05 L458.44,888.30 L456.21,888.50 L454.24,888.68 L452.55,888.83 L451.11,888.95 L449.92,889.04 L448.97,889.12 L448.24,889.17 L447.70,889.21 L447.32,889.24 L447.09,889.25 L446.97,889.26 L446.92,889.26 L446.92,889.27Z" fill="#84CB84" stroke="#84CB84" stroke-width="1.80" stroke-linejoin="round"/>
<path d="M446.92,311.71 L446.92,311.71 L446.97,311.71 L447.09,311.72 L447.32,311.72 L447.70,311.74 L448.24,311.76 L448.97,311.80 L449.92,311.84 L451.11,311.90 L452.55,311.97 L454.24,312.06 L456.21,312.17 L458.44,312.29 L460.94,312.44 L463.71,312.61 L466.73,312.80 L469.99,313.01 L473.48,313.24 L477.18,313.50 L481.07,313.79 L485.12,314.10 L489.33,314.43 L493.65,314.79 L498.07,315.17 L502.57,315.57 L507.13,316.00 L511.73,316.46 L516.34,316.93 L520.96,317.43 L525.57,317.96 L530.15,318.50 L534.70,319.07 L539.20,319.67 L543.65,320.28 L548.04,320.92 L552.37,321.59 L556.64,322.28 L560.84,323.00 L564.98,323.74 L569.06,324.51 L573.07,325.31 L577.02,326.14 L580.93,327.00 L584.78,327.89 L588.59,328.82 L592.35,329.78 L596.09,330.78 L599.79,331.82 L603.48,332.90 L607.15,334.02 L610.82,335.19 L614.48,336.41 L618.15,337.67 L621.83,338.98 L625.52,340.35 L629.24,341.76 L632.99,343.23 L636.77,344.76 L640.59,346.34 L644.45,347.98 L648.35,349.67 L652.30,351.41 L656.30,353.21 L660.35,355.06 L664.46,356.98 L668.62,358.95 L672.85,360.97 L677.14,363.05 L681.49,365.19 L685.90,367.39 L690.38,369.64 L694.93,371.95 L699.54,374.31 L704.21,376.72 L708.95,379.18 L713.74,381.70 L718.60,384.26 L723.51,386.86 L728.48,389.51 L733.49,392.19 L738.56,394.91 L743.66,397.67 L748.81,400.46 L753.99,403.27 L759.20,406.11 L764.44,408.97 L769.70,411.84 L774.97,414.72 L780.26,417.62 L785.55,420.51 L790.84,423.41 L796.13,426.30 L801.40,429.19 L806.66,432.06 L811.90,434.92 L817.11,437.75 L822.29,440.57 L827.44,443.35 L832.54,446.11 L837.61,448.83 L842.62,451.52 L847.59,454.16 L852.50,456.77 L857.36,459.33 L862.15,461.84 L866.89,464.30 L871.56,466.72 L876.17,469.08 L880.72,471.38 L885.20,473.63 L889.61,475.83 L893.96,477.97 L898.25,480.05 L902.48,482.08 L906.64,484.05 L910.75,485.96 L914.80,487.82 L918.80,489.61 L922.75,491.36 L926.65,493.05 L930.51,494.68 L934.33,496.26 L938.11,497.79 L941.86,499.26 L945.58,500.68 L949.27,502.04 L952.95,503.35 L956.62,504.62 L960.28,505.83 L963.95,507.00 L967.62,508.12 L971.31,509.20 L975.01,510.24 L978.75,511.24 L982.51,512.21 L986.32,513.13 L990.17,514.03 L994.08,514.89 L998.03,515.72 L1002.04,516.52 L1006.12,517.29 L1010.26,518.03 L1014.46,518.75 L1018.73,519.44 L1023.06,520.10 L1027.45,520.74 L1031.90,521.36 L1036.40,521.95 L1040.95,522.52 L1045.53,523.07 L1050.14,523.59 L1054.76,524.09 L1059.37,524.57 L1063.97,525.02 L1068.53,525.45 L1073.03,525.86 L1077.45,526.24 L1081.77,526.59 L1085.98,526.93 L1090.03,527.24 L1093.92,527.52 L1097.62,527.78 L1101.11,528.02 L1104.37,528.23 L1107.39,528.42 L1110.16,528.58 L1112.66,528.73 L1114.89,528.86 L1116.86,528.96 L1118.55,529.05 L1119.99,529.12 L1121.18,529.18 L1122.13,529.23 L1122.86,529.26 L1123.40,529.28 L1123.78,529.30 L1124.01,529.31 L1124.13,529.31 L1124.18,529.32 L1124.18,529.32 L1124.18,533.89 L1124.18,533.89 L1124.13,533.89 L1124.01,533.88 L1123.78,533.87 L1123.40,533.86 L1122.86,533.83 L1122.13,533.80 L1121.18,533.75 L1119.99,533.70 L1118.55,533.62 L1116.86,533.54 L1114.89,533.43 L1112.66,533.30 L1110.16,533.16 L1107.39,532.99 L1104.37,532.80 L1101.11,532.59 L1097.62,532.35 L1093.92,532.09 L1090.03,531.81 L1085.98,531.50 L1081.77,531.17 L1077.45,530.81 L1073.03,530.43 L1068.53,530.02 L1063.97,529.59 L1059.37,529.14 L1054.76,528.66 L1050.14,528.16 L1045.53,527.64 L1040.95,527.09 L1036.40,526.52 L1031.90,525.93 L1027.45,525.31 L1023.06,524.67 L1018.73,524.01 L1014.46,523.32 L1010.26,522.60 L1006.12,521.86 L1002.04,521.09 L998.03,520.29 L994.08,519.46 L990.17,518.60 L986.32,517.71 L982.51,516.78 L978.75,515.82 L975.01,514.82 L971.31,513.78 L967.62,512.70 L963.95,511.57 L960.28,510.41 L956.62,509.19 L952.95,507.93 L949.27,506.62 L945.58,505.25 L941.86,503.83 L938.11,502.36 L934.33,500.84 L930.51,499.26 L926.65,497.62 L922.75,495.93 L918.80,494.19 L914.80,492.39 L910.75,490.53 L906.64,488.62 L902.48,486.65 L898.25,484.63 L893.96,482.54 L889.61,480.40 L885.20,478.21 L880.72,475.96 L876.17,473.65 L871.56,471.29 L866.89,468.88 L862.15,466.41 L857.36,463.90 L852.50,461.34 L847.59,458.74 L842.62,456.09 L837.61,453.41 L832.54,450.68 L827.44,447.93 L822.29,445.14 L817.11,442.33 L811.90,439.49 L806.66,436.63 L801.40,433.76 L796.13,430.88 L790.84,427.98 L785.55,425.09 L780.26,422.19 L774.97,419.30 L769.70,416.41 L764.44,413.54 L759.20,410.68 L753.99,407.84 L748.81,405.03 L743.66,402.24 L738.56,399.49 L733.49,396.77 L728.48,394.08 L723.51,391.43 L718.60,388.83 L713.74,386.27 L708.95,383.76 L704.21,381.29 L699.54,378.88 L694.93,376.52 L690.38,374.22 L685.90,371.96 L681.49,369.77 L677.14,367.63 L672.85,365.54 L668.62,363.52 L664.46,361.55 L660.35,359.64 L656.30,357.78 L652.30,355.98 L648.35,354.24 L644.45,352.55 L640.59,350.91 L636.77,349.33 L632.99,347.81 L629.24,346.34 L625.52,344.92 L621.83,343.56 L618.15,342.24 L614.48,340.98 L610.82,339.77 L607.15,338.60 L603.48,337.47 L599.79,336.39 L596.09,335.35 L592.35,334.35 L588.59,333.39 L584.78,332.46 L580.93,331.57 L577.02,330.71 L573.07,329.88 L569.06,329.08 L564.98,328.31 L560.84,327.57 L556.64,326.85 L552.37,326.16 L548.04,325.50 L543.65,324.86 L539.20,324.24 L534.70,323.65 L530.15,323.08 L525.57,322.53 L520.96,322.01 L516.34,321.51 L511.73,321.03 L507.13,320.58 L502.57,320.15 L498.07,319.74 L493.65,319.36 L489.33,319.00 L485.12,318.67 L481.07,318.36 L477.18,318.08 L473.48,317.82 L469.99,317.58 L466.73,317.37 L463.71,317.18 L460.94,317.01 L458.44,316.87 L456.21,316.74 L454.24,316.64 L452.55,316.55 L451.11,316.47 L449.92,316.42 L448.97,316.37 L448.24,316.34 L447.70,316.31 L447.32,316.30 L447.09,316.29 L446.97,316.28 L446.92,316.28 L446.92,316.28Z" fill="#C1B1D6" stroke="#C1B1D6" stroke-width="1.80" stroke-linejoin="round"/>
<path d="M446.92,345.63 L446.92,345.63 L446.97,345.63 L447.09,345.63 L447.32,345.64 L447.70,345.65 L448.24,345.67 L448.97,345.70 L449.92,345.74 L451.11,345.79 L452.55,345.86 L454.24,345.93 L456.21,346.02 L458.44,346.13 L460.94,346.26 L463.71,346.40 L466.73,346.57 L469.99,346.75 L473.48,346.95 L477.18,347.18 L481.07,347.43 L485.12,347.69 L489.33,347.98 L493.65,348.29 L498.07,348.62 L502.57,348.97 L507.13,349.34 L511.73,349.73 L516.34,350.15 L520.96,350.58 L525.57,351.03 L530.15,351.50 L534.70,352.00 L539.20,352.51 L543.65,353.04 L548.04,353.60 L552.37,354.17 L556.64,354.77 L560.84,355.39 L564.98,356.03 L569.06,356.70 L573.07,357.39 L577.02,358.11 L580.93,358.85 L584.78,359.63 L588.59,360.43 L592.35,361.26 L596.09,362.13 L599.79,363.03 L603.48,363.96 L607.15,364.93 L610.82,365.94 L614.48,366.99 L618.15,368.09 L621.83,369.22 L625.52,370.40 L629.24,371.63 L632.99,372.90 L636.77,374.22 L640.59,375.59 L644.45,377.00 L648.35,378.46 L652.30,379.97 L656.30,381.53 L660.35,383.14 L664.46,384.79 L668.62,386.49 L672.85,388.25 L677.14,390.05 L681.49,391.90 L685.90,393.80 L690.38,395.75 L694.93,397.74 L699.54,399.79 L704.21,401.87 L708.95,404.00 L713.74,406.18 L718.60,408.39 L723.51,410.64 L728.48,412.93 L733.49,415.26 L738.56,417.61 L743.66,420.00 L748.81,422.41 L753.99,424.84 L759.20,427.30 L764.44,429.77 L769.70,432.25 L774.97,434.75 L780.26,437.25 L785.55,439.76 L790.84,442.26 L796.13,444.77 L801.40,447.26 L806.66,449.75 L811.90,452.22 L817.11,454.67 L822.29,457.11 L827.44,459.52 L832.54,461.90 L837.61,464.26 L842.62,466.58 L847.59,468.87 L852.50,471.12 L857.36,473.34 L862.15,475.51 L866.89,477.64 L871.56,479.73 L876.17,481.77 L880.72,483.77 L885.20,485.72 L889.61,487.62 L893.96,489.47 L898.25,491.27 L902.48,493.02 L906.64,494.73 L910.75,496.38 L914.80,497.99 L918.80,499.54 L922.75,501.05 L926.65,502.51 L930.51,503.93 L934.33,505.29 L938.11,506.61 L941.86,507.89 L945.58,509.11 L949.27,510.29 L952.95,511.43 L956.62,512.52 L960.28,513.57 L963.95,514.58 L967.62,515.55 L971.31,516.49 L975.01,517.39 L978.75,518.25 L982.51,519.09 L986.32,519.89 L990.17,520.66 L994.08,521.41 L998.03,522.12 L1002.04,522.82 L1006.12,523.48 L1010.26,524.12 L1014.46,524.74 L1018.73,525.34 L1023.06,525.92 L1027.45,526.47 L1031.90,527.00 L1036.40,527.52 L1040.95,528.01 L1045.53,528.48 L1050.14,528.94 L1054.76,529.37 L1059.37,529.78 L1063.97,530.17 L1068.53,530.54 L1073.03,530.90 L1077.45,531.23 L1081.77,531.54 L1085.98,531.82 L1090.03,532.09 L1093.92,532.34 L1097.62,532.56 L1101.11,532.76 L1104.37,532.95 L1107.39,533.11 L1110.16,533.26 L1112.66,533.38 L1114.89,533.49 L1116.86,533.58 L1118.55,533.66 L1119.99,533.72 L1121.18,533.77 L1122.13,533.81 L1122.86,533.84 L1123.40,533.86 L1123.78,533.88 L1124.01,533.88 L1124.13,533.89 L1124.18,533.89 L1124.18,533.89 L1124.18,656.03 L1124.18,656.03 L1124.13,656.03 L1124.01,656.03 L1123.78,656.02 L1123.40,656.00 L1122.86,655.98 L1122.13,655.95 L1121.18,655.92 L1119.99,655.87 L1118.55,655.80 L1116.86,655.73 L1114.89,655.63 L1112.66,655.53 L1110.16,655.40 L1107.39,655.25 L1104.37,655.09 L1101.11,654.91 L1097.62,654.70 L1093.92,654.48 L1090.03,654.23 L1085.98,653.97 L1081.77,653.68 L1077.45,653.37 L1073.03,653.04 L1068.53,652.69 L1063.97,652.32 L1059.37,651.92 L1054.76,651.51 L1050.14,651.08 L1045.53,650.63 L1040.95,650.15 L1036.40,649.66 L1031.90,649.15 L1027.45,648.61 L1023.06,648.06 L1018.73,647.48 L1014.46,646.89 L1010.26,646.27 L1006.12,645.62 L1002.04,644.96 L998.03,644.27 L994.08,643.55 L990.17,642.80 L986.32,642.03 L982.51,641.23 L978.75,640.40 L975.01,639.53 L971.31,638.63 L967.62,637.70 L963.95,636.73 L960.28,635.71 L956.62,634.66 L952.95,633.57 L949.27,632.44 L945.58,631.26 L941.86,630.03 L938.11,628.76 L934.33,627.44 L930.51,626.07 L926.65,624.65 L922.75,623.19 L918.80,621.68 L914.80,620.13 L910.75,618.52 L906.64,616.87 L902.48,615.16 L898.25,613.41 L893.96,611.61 L889.61,609.76 L885.20,607.86 L880.72,605.91 L876.17,603.91 L871.56,601.87 L866.89,599.79 L862.15,597.65 L857.36,595.48 L852.50,593.27 L847.59,591.01 L842.62,588.72 L837.61,586.40 L832.54,584.05 L827.44,581.66 L822.29,579.25 L817.11,576.82 L811.90,574.36 L806.66,571.89 L801.40,569.40 L796.13,566.91 L790.84,564.41 L785.55,561.90 L780.26,559.39 L774.97,556.89 L769.70,554.40 L764.44,551.91 L759.20,549.44 L753.99,546.98 L748.81,544.55 L743.66,542.14 L738.56,539.75 L733.49,537.40 L728.48,535.08 L723.51,532.79 L718.60,530.53 L713.74,528.32 L708.95,526.15 L704.21,524.01 L699.54,521.93 L694.93,519.89 L690.38,517.89 L685.90,515.94 L681.49,514.04 L677.14,512.19 L672.85,510.39 L668.62,508.64 L664.46,506.93 L660.35,505.28 L656.30,503.67 L652.30,502.12 L648.35,500.61 L644.45,499.15 L640.59,497.73 L636.77,496.36 L632.99,495.04 L629.24,493.77 L625.52,492.55 L621.83,491.36 L618.15,490.23 L614.48,489.14 L610.82,488.09 L607.15,487.08 L603.48,486.10 L599.79,485.17 L596.09,484.27 L592.35,483.40 L588.59,482.57 L584.78,481.77 L580.93,481.00 L577.02,480.25 L573.07,479.53 L569.06,478.84 L564.98,478.18 L560.84,477.53 L556.64,476.91 L552.37,476.32 L548.04,475.74 L543.65,475.19 L539.20,474.65 L534.70,474.14 L530.15,473.65 L525.57,473.17 L520.96,472.72 L516.34,472.29 L511.73,471.88 L507.13,471.48 L502.57,471.11 L498.07,470.76 L493.65,470.43 L489.33,470.12 L485.12,469.83 L481.07,469.57 L477.18,469.32 L473.48,469.10 L469.99,468.89 L466.73,468.71 L463.71,468.55 L460.94,468.40 L458.44,468.28 L456.21,468.17 L454.24,468.07 L452.55,468.00 L451.11,467.94 L449.92,467.89 L448.97,467.85 L448.24,467.82 L447.70,467.80 L447.32,467.78 L447.09,467.77 L446.97,467.77 L446.92,467.77 L446.92,467.77Z" fill="#C1B1D6" stroke="#C1B1D6" stroke-width="1.80" stroke-linejoin="round"/>
<path d="M446.92,483.58 L446.92,483.58 L446.97,483.59 L447.09,483.59 L447.32,483.60 L447.70,483.61 L448.24,483.63 L448.97,483.66 L449.92,483.69 L451.11,483.74 L452.55,483.79 L454.24,483.86 L456.21,483.95 L458.44,484.05 L460.94,484.16 L463.71,484.30 L466.73,484.45 L469.99,484.61 L473.48,484.80 L477.18,485.01 L481.07,485.23 L485.12,485.48 L489.33,485.74 L493.65,486.02 L498.07,486.33 L502.57,486.65 L507.13,486.99 L511.73,487.35 L516.34,487.73 L520.96,488.12 L525.57,488.54 L530.15,488.97 L534.70,489.42 L539.20,489.89 L543.65,490.38 L548.04,490.89 L552.37,491.41 L556.64,491.96 L560.84,492.53 L564.98,493.12 L569.06,493.73 L573.07,494.36 L577.02,495.02 L580.93,495.70 L584.78,496.41 L588.59,497.14 L592.35,497.91 L596.09,498.70 L599.79,499.52 L603.48,500.38 L607.15,501.27 L610.82,502.19 L614.48,503.16 L618.15,504.16 L621.83,505.20 L625.52,506.28 L629.24,507.40 L632.99,508.57 L636.77,509.78 L640.59,511.03 L644.45,512.33 L648.35,513.66 L652.30,515.05 L656.30,516.47 L660.35,517.94 L664.46,519.46 L668.62,521.02 L672.85,522.62 L677.14,524.27 L681.49,525.97 L685.90,527.71 L690.38,529.50 L694.93,531.32 L699.54,533.19 L704.21,535.11 L708.95,537.06 L713.74,539.05 L718.60,541.08 L723.51,543.14 L728.48,545.24 L733.49,547.37 L738.56,549.52 L743.66,551.71 L748.81,553.92 L753.99,556.15 L759.20,558.39 L764.44,560.66 L769.70,562.93 L774.97,565.22 L780.26,567.51 L785.55,569.81 L790.84,572.10 L796.13,574.40 L801.40,576.68 L806.66,578.96 L811.90,581.22 L817.11,583.47 L822.29,585.70 L827.44,587.91 L832.54,590.09 L837.61,592.25 L842.62,594.38 L847.59,596.48 L852.50,598.54 L857.36,600.57 L862.15,602.56 L866.89,604.51 L871.56,606.42 L876.17,608.29 L880.72,610.12 L885.20,611.91 L889.61,613.65 L893.96,615.34 L898.25,616.99 L902.48,618.60 L906.64,620.16 L910.75,621.67 L914.80,623.14 L918.80,624.57 L922.75,625.95 L926.65,627.29 L930.51,628.59 L934.33,629.84 L938.11,631.05 L941.86,632.21 L945.58,633.34 L949.27,634.42 L952.95,635.46 L956.62,636.46 L960.28,637.42 L963.95,638.35 L967.62,639.24 L971.31,640.09 L975.01,640.92 L978.75,641.71 L982.51,642.47 L986.32,643.21 L990.17,643.92 L994.08,644.60 L998.03,645.25 L1002.04,645.89 L1006.12,646.50 L1010.26,647.09 L1014.46,647.65 L1018.73,648.20 L1023.06,648.73 L1027.45,649.24 L1031.90,649.73 L1036.40,650.20 L1040.95,650.65 L1045.53,651.08 L1050.14,651.49 L1054.76,651.89 L1059.37,652.27 L1063.97,652.63 L1068.53,652.97 L1073.03,653.29 L1077.45,653.59 L1081.77,653.88 L1085.98,654.14 L1090.03,654.38 L1093.92,654.61 L1097.62,654.81 L1101.11,655.00 L1104.37,655.17 L1107.39,655.32 L1110.16,655.45 L1112.66,655.57 L1114.89,655.67 L1116.86,655.75 L1118.55,655.82 L1119.99,655.88 L1121.18,655.93 L1122.13,655.96 L1122.86,655.99 L1123.40,656.01 L1123.78,656.02 L1124.01,656.03 L1124.13,656.03 L1124.18,656.03 L1124.18,656.03 L1124.18,660.03 L1124.18,660.03 L1124.13,660.03 L1124.01,660.03 L1123.78,660.02 L1123.40,660.01 L1122.86,659.99 L1122.13,659.96 L1121.18,659.93 L1119.99,659.88 L1118.55,659.82 L1116.86,659.75 L1114.89,659.67 L1112.66,659.57 L1110.16,659.45 L1107.39,659.32 L1104.37,659.17 L1101.11,659.00 L1097.62,658.82 L1093.92,658.61 L1090.03,658.39 L1085.98,658.14 L1081.77,657.88 L1077.45,657.59 L1073.03,657.29 L1068.53,656.97 L1063.97,656.63 L1059.37,656.27 L1054.76,655.89 L1050.14,655.50 L1045.53,655.08 L1040.95,654.65 L1036.40,654.20 L1031.90,653.73 L1027.45,653.24 L1023.06,652.73 L1018.73,652.20 L1014.46,651.66 L1010.26,651.09 L1006.12,650.50 L1002.04,649.89 L998.03,649.26 L994.08,648.60 L990.17,647.92 L986.32,647.21 L982.51,646.47 L978.75,645.71 L975.01,644.92 L971.31,644.10 L967.62,643.24 L963.95,642.35 L960.28,641.42 L956.62,640.46 L952.95,639.46 L949.27,638.42 L945.58,637.34 L941.86,636.22 L938.11,635.05 L934.33,633.84 L930.51,632.59 L926.65,631.29 L922.75,629.95 L918.80,628.57 L914.80,627.15 L910.75,625.68 L906.64,624.16 L902.48,622.60 L898.25,620.99 L893.96,619.34 L889.61,617.65 L885.20,615.91 L880.72,614.12 L876.17,612.29 L871.56,610.42 L866.89,608.51 L862.15,606.56 L857.36,604.57 L852.50,602.54 L847.59,600.48 L842.62,598.38 L837.61,596.25 L832.54,594.09 L827.44,591.91 L822.29,589.70 L817.11,587.47 L811.90,585.22 L806.66,582.96 L801.40,580.68 L796.13,578.40 L790.84,576.11 L785.55,573.81 L780.26,571.51 L774.97,569.22 L769.70,566.94 L764.44,564.66 L759.20,562.40 L753.99,560.15 L748.81,557.92 L743.66,555.71 L738.56,553.52 L733.49,551.37 L728.48,549.24 L723.51,547.14 L718.60,545.08 L713.74,543.05 L708.95,541.06 L704.21,539.11 L699.54,537.20 L694.93,535.32 L690.38,533.50 L685.90,531.71 L681.49,529.97 L677.14,528.28 L672.85,526.63 L668.62,525.02 L664.46,523.46 L660.35,521.94 L656.30,520.47 L652.30,519.05 L648.35,517.67 L644.45,516.33 L640.59,515.03 L636.77,513.78 L632.99,512.57 L629.24,511.40 L625.52,510.28 L621.83,509.20 L618.15,508.16 L614.48,507.16 L610.82,506.20 L607.15,505.27 L603.48,504.38 L599.79,503.52 L596.09,502.70 L592.35,501.91 L588.59,501.14 L584.78,500.41 L580.93,499.70 L577.02,499.02 L573.07,498.36 L569.06,497.73 L564.98,497.12 L560.84,496.53 L556.64,495.96 L552.37,495.42 L548.04,494.89 L543.65,494.38 L539.20,493.89 L534.70,493.42 L530.15,492.97 L525.57,492.54 L520.96,492.12 L516.34,491.73 L511.73,491.35 L507.13,490.99 L502.57,490.65 L498.07,490.33 L493.65,490.03 L489.33,489.74 L485.12,489.48 L481.07,489.23 L477.18,489.01 L473.48,488.80 L469.99,488.62 L466.73,488.45 L463.71,488.30 L460.94,488.17 L458.44,488.05 L456.21,487.95 L454.24,487.87 L452.55,487.80 L451.11,487.74 L449.92,487.69 L448.97,487.66 L448.24,487.63 L447.70,487.61 L447.32,487.60 L447.09,487.59 L446.97,487.59 L446.92,487.59 L446.92,487.59Z" fill="#C1B1D6" stroke="#C1B1D6" stroke-width="1.80" stroke-linejoin="round"/>
<path d="M446.92,617.35 L446.92,617.35 L446.97,617.35 L447.09,617.35 L447.32,617.35 L447.70,617.36 L448.24,617.36 L448.97,617.37 L449.92,617.38 L451.11,617.39 L452.55,617.40 L454.24,617.42 L456.21,617.44 L458.44,617.47 L460.94,617.49 L463.71,617.53 L466.73,617.56 L469.99,617.61 L473.48,617.65 L477.18,617.70 L481.07,617.76 L485.12,617.82 L489.33,617.88 L493.65,617.95 L498.07,618.03 L502.57,618.11 L507.13,618.19 L511.73,618.28 L516.34,618.38 L520.96,618.47 L525.57,618.58 L530.15,618.68 L534.70,618.79 L539.20,618.91 L543.65,619.03 L548.04,619.16 L552.37,619.29 L556.64,619.42 L560.84,619.56 L564.98,619.71 L569.06,619.86 L573.07,620.02 L577.02,620.18 L580.93,620.35 L584.78,620.52 L588.59,620.71 L592.35,620.90 L596.09,621.09 L599.79,621.30 L603.48,621.51 L607.15,621.73 L610.82,621.96 L614.48,622.19 L618.15,622.44 L621.83,622.70 L625.52,622.97 L629.24,623.25 L632.99,623.53 L636.77,623.83 L640.59,624.14 L644.45,624.46 L648.35,624.80 L652.30,625.14 L656.30,625.49 L660.35,625.85 L664.46,626.23 L668.62,626.62 L672.85,627.01 L677.14,627.42 L681.49,627.84 L685.90,628.27 L690.38,628.71 L694.93,629.17 L699.54,629.63 L704.21,630.10 L708.95,630.59 L713.74,631.08 L718.60,631.58 L723.51,632.09 L728.48,632.61 L733.49,633.14 L738.56,633.67 L743.66,634.21 L748.81,634.76 L753.99,635.31 L759.20,635.87 L764.44,636.43 L769.70,636.99 L774.97,637.56 L780.26,638.12 L785.55,638.69 L790.84,639.26 L796.13,639.83 L801.40,640.39 L806.66,640.96 L811.90,641.52 L817.11,642.07 L822.29,642.63 L827.44,643.17 L832.54,643.71 L837.61,644.25 L842.62,644.77 L847.59,645.29 L852.50,645.80 L857.36,646.31 L862.15,646.80 L866.89,647.28 L871.56,647.75 L876.17,648.22 L880.72,648.67 L885.20,649.11 L889.61,649.54 L893.96,649.96 L898.25,650.37 L902.48,650.77 L906.64,651.15 L910.75,651.53 L914.80,651.89 L918.80,652.25 L922.75,652.59 L926.65,652.92 L930.51,653.24 L934.33,653.55 L938.11,653.85 L941.86,654.14 L945.58,654.42 L949.27,654.68 L952.95,654.94 L956.62,655.19 L960.28,655.43 L963.95,655.66 L967.62,655.88 L971.31,656.09 L975.01,656.29 L978.75,656.49 L982.51,656.68 L986.32,656.86 L990.17,657.03 L994.08,657.20 L998.03,657.37 L1002.04,657.52 L1006.12,657.67 L1010.26,657.82 L1014.46,657.96 L1018.73,658.10 L1023.06,658.23 L1027.45,658.35 L1031.90,658.47 L1036.40,658.59 L1040.95,658.70 L1045.53,658.81 L1050.14,658.91 L1054.76,659.01 L1059.37,659.10 L1063.97,659.19 L1068.53,659.28 L1073.03,659.35 L1077.45,659.43 L1081.77,659.50 L1085.98,659.57 L1090.03,659.63 L1093.92,659.68 L1097.62,659.73 L1101.11,659.78 L1104.37,659.82 L1107.39,659.86 L1110.16,659.89 L1112.66,659.92 L1114.89,659.94 L1116.86,659.96 L1118.55,659.98 L1119.99,660.00 L1121.18,660.01 L1122.13,660.02 L1122.86,660.02 L1123.40,660.03 L1123.78,660.03 L1124.01,660.03 L1124.13,660.03 L1124.18,660.03 L1124.18,660.03 L1124.18,689.76 L1124.18,689.76 L1124.13,689.76 L1124.01,689.76 L1123.78,689.76 L1123.40,689.75 L1122.86,689.75 L1122.13,689.74 L1121.18,689.73 L1119.99,689.72 L1118.55,689.71 L1116.86,689.69 L1114.89,689.67 L1112.66,689.64 L1110.16,689.62 L1107.39,689.58 L1104.37,689.55 L1101.11,689.50 L1097.62,689.46 L1093.92,689.41 L1090.03,689.35 L1085.98,689.29 L1081.77,689.23 L1077.45,689.16 L1073.03,689.08 L1068.53,689.00 L1063.97,688.92 L1059.37,688.83 L1054.76,688.73 L1050.14,688.64 L1045.53,688.53 L1040.95,688.43 L1036.40,688.31 L1031.90,688.20 L1027.45,688.08 L1023.06,687.95 L1018.73,687.82 L1014.46,687.69 L1010.26,687.55 L1006.12,687.40 L1002.04,687.25 L998.03,687.09 L994.08,686.93 L990.17,686.76 L986.32,686.59 L982.51,686.40 L978.75,686.21 L975.01,686.02 L971.31,685.81 L967.62,685.60 L963.95,685.38 L960.28,685.15 L956.62,684.91 L952.95,684.67 L949.27,684.41 L945.58,684.14 L941.86,683.86 L938.11,683.58 L934.33,683.28 L930.51,682.97 L926.65,682.65 L922.75,682.31 L918.80,681.97 L914.80,681.62 L910.75,681.26 L906.64,680.88 L902.48,680.49 L898.25,680.10 L893.96,679.69 L889.61,679.27 L885.20,678.84 L880.72,678.40 L876.17,677.94 L871.56,677.48 L866.89,677.01 L862.15,676.52 L857.36,676.03 L852.50,675.53 L847.59,675.02 L842.62,674.50 L837.61,673.97 L832.54,673.44 L827.44,672.90 L822.29,672.35 L817.11,671.80 L811.90,671.24 L806.66,670.68 L801.40,670.12 L796.13,669.55 L790.84,668.99 L785.55,668.42 L780.26,667.85 L774.97,667.28 L769.70,666.72 L764.44,666.15 L759.20,665.59 L753.99,665.04 L748.81,664.48 L743.66,663.94 L738.56,663.40 L733.49,662.86 L728.48,662.34 L723.51,661.82 L718.60,661.31 L713.74,660.80 L708.95,660.31 L704.21,659.83 L699.54,659.36 L694.93,658.89 L690.38,658.44 L685.90,658.00 L681.49,657.57 L677.14,657.15 L672.85,656.74 L668.62,656.34 L664.46,655.96 L660.35,655.58 L656.30,655.22 L652.30,654.86 L648.35,654.52 L644.45,654.19 L640.59,653.87 L636.77,653.56 L632.99,653.26 L629.24,652.97 L625.52,652.69 L621.83,652.43 L618.15,652.17 L614.48,651.92 L610.82,651.68 L607.15,651.45 L603.48,651.23 L599.79,651.02 L596.09,650.82 L592.35,650.62 L588.59,650.43 L584.78,650.25 L580.93,650.08 L577.02,649.91 L573.07,649.74 L569.06,649.59 L564.98,649.44 L560.84,649.29 L556.64,649.15 L552.37,649.01 L548.04,648.88 L543.65,648.76 L539.20,648.64 L534.70,648.52 L530.15,648.41 L525.57,648.30 L520.96,648.20 L516.34,648.10 L511.73,648.01 L507.13,647.92 L502.57,647.83 L498.07,647.75 L493.65,647.68 L489.33,647.61 L485.12,647.54 L481.07,647.48 L477.18,647.43 L473.48,647.38 L469.99,647.33 L466.73,647.29 L463.71,647.25 L460.94,647.22 L458.44,647.19 L456.21,647.17 L454.24,647.15 L452.55,647.13 L451.11,647.11 L449.92,647.10 L448.97,647.09 L448.24,647.09 L447.70,647.08 L447.32,647.08 L447.09,647.08 L446.97,647.08 L446.92,647.08 L446.92,647.08Z" fill="#C1B1D6" stroke="#C1B1D6" stroke-width="1.80" stroke-linejoin="round"/>
<path d="M446.92,889.27 L446.92,889.26 L446.97,889.26 L447.09,889.26 L447.32,889.25 L447.70,889.24 L448.24,889.21 L448.97,889.18 L449.92,889.14 L451.11,889.09 L452.55,889.02 L454.24,888.94 L456.21,888.84 L458.44,888.73 L460.94,888.59 L463.71,888.44 L466.73,888.27 L469.99,888.07 L473.48,887.86 L477.18,887.62 L481.07,887.36 L485.12,887.08 L489.33,886.77 L493.65,886.44 L498.07,886.09 L502.57,885.72 L507.13,885.33 L511.73,884.91 L516.34,884.47 L520.96,884.02 L525.57,883.54 L530.15,883.04 L534.70,882.51 L539.20,881.97 L543.65,881.40 L548.04,880.82 L552.37,880.21 L556.64,879.57 L560.84,878.92 L564.98,878.24 L569.06,877.53 L573.07,876.80 L577.02,876.04 L580.93,875.25 L584.78,874.43 L588.59,873.58 L592.35,872.70 L596.09,871.78 L599.79,870.83 L603.48,869.84 L607.15,868.81 L610.82,867.73 L614.48,866.62 L618.15,865.46 L621.83,864.26 L625.52,863.01 L629.24,861.71 L632.99,860.36 L636.77,858.96 L640.59,857.51 L644.45,856.01 L648.35,854.47 L652.30,852.87 L656.30,851.22 L660.35,849.52 L664.46,847.76 L668.62,845.96 L672.85,844.10 L677.14,842.19 L681.49,840.23 L685.90,838.21 L690.38,836.15 L694.93,834.04 L699.54,831.87 L704.21,829.66 L708.95,827.40 L713.74,825.10 L718.60,822.75 L723.51,820.36 L728.48,817.94 L733.49,815.48 L738.56,812.98 L743.66,810.45 L748.81,807.90 L753.99,805.32 L759.20,802.72 L764.44,800.10 L769.70,797.47 L774.97,794.82 L780.26,792.17 L785.55,789.51 L790.84,786.86 L796.13,784.20 L801.40,781.56 L806.66,778.93 L811.90,776.31 L817.11,773.71 L822.29,771.13 L827.44,768.57 L832.54,766.04 L837.61,763.55 L842.62,761.09 L847.59,758.66 L852.50,756.27 L857.36,753.93 L862.15,751.62 L866.89,749.36 L871.56,747.15 L876.17,744.99 L880.72,742.87 L885.20,740.81 L889.61,738.80 L893.96,736.83 L898.25,734.92 L902.48,733.07 L906.64,731.26 L910.75,729.51 L914.80,727.81 L918.80,726.16 L922.75,724.56 L926.65,723.01 L930.51,721.51 L934.33,720.06 L938.11,718.66 L941.86,717.31 L945.58,716.02 L949.27,714.76 L952.95,713.56 L956.62,712.40 L960.28,711.29 L963.95,710.22 L967.62,709.19 L971.31,708.20 L975.01,707.25 L978.75,706.33 L982.51,705.45 L986.32,704.60 L990.17,703.78 L994.08,702.99 L998.03,702.23 L1002.04,701.49 L1006.12,700.79 L1010.26,700.11 L1014.46,699.45 L1018.73,698.82 L1023.06,698.21 L1027.45,697.62 L1031.90,697.06 L1036.40,696.51 L1040.95,695.99 L1045.53,695.49 L1050.14,695.01 L1054.76,694.55 L1059.37,694.11 L1063.97,693.70 L1068.53,693.30 L1073.03,692.93 L1077.45,692.58 L1081.77,692.25 L1085.98,691.95 L1090.03,691.67 L1093.92,691.41 L1097.62,691.17 L1101.11,690.95 L1104.37,690.76 L1107.39,690.58 L1110.16,690.43 L1112.66,690.30 L1114.89,690.18 L1116.86,690.08 L1118.55,690.00 L1119.99,689.94 L1121.18,689.88 L1122.13,689.84 L1122.86,689.81 L1123.40,689.79 L1123.78,689.77 L1124.01,689.77 L1124.13,689.76 L1124.18,689.76 L1124.18,689.76 L1124.18,737.02 L1124.18,737.02 L1124.13,737.02 L1124.01,737.02 L1123.78,737.03 L1123.40,737.05 L1122.86,737.07 L1122.13,737.10 L1121.18,737.14 L1119.99,737.19 L1118.55,737.26 L1116.86,737.34 L1114.89,737.44 L1112.66,737.55 L1110.16,737.69 L1107.39,737.84 L1104.37,738.01 L1101.11,738.21 L1097.62,738.42 L1093.92,738.66 L1090.03,738.92 L1085.98,739.21 L1081.77,739.51 L1077.45,739.84 L1073.03,740.19 L1068.53,740.56 L1063.97,740.95 L1059.37,741.37 L1054.76,741.81 L1050.14,742.27 L1045.53,742.74 L1040.95,743.25 L1036.40,743.77 L1031.90,744.31 L1027.45,744.88 L1023.06,745.46 L1018.73,746.07 L1014.46,746.71 L1010.26,747.36 L1006.12,748.04 L1002.04,748.75 L998.03,749.48 L994.08,750.24 L990.17,751.03 L986.32,751.85 L982.51,752.70 L978.75,753.58 L975.01,754.50 L971.31,755.45 L967.62,756.45 L963.95,757.48 L960.28,758.55 L956.62,759.66 L952.95,760.82 L949.27,762.02 L945.58,763.27 L941.86,764.57 L938.11,765.92 L934.33,767.32 L930.51,768.77 L926.65,770.27 L922.75,771.82 L918.80,773.41 L914.80,775.06 L910.75,776.77 L906.64,778.52 L902.48,780.32 L898.25,782.18 L893.96,784.09 L889.61,786.05 L885.20,788.07 L880.72,790.13 L876.17,792.25 L871.56,794.41 L866.89,796.62 L862.15,798.88 L857.36,801.18 L852.50,803.53 L847.59,805.92 L842.62,808.34 L837.61,810.80 L832.54,813.30 L827.44,815.83 L822.29,818.38 L817.11,820.96 L811.90,823.56 L806.66,826.18 L801.40,828.82 L796.13,831.46 L790.84,834.11 L785.55,836.77 L780.26,839.42 L774.97,842.08 L769.70,844.72 L764.44,847.36 L759.20,849.97 L753.99,852.58 L748.81,855.15 L743.66,857.71 L738.56,860.24 L733.49,862.73 L728.48,865.20 L723.51,867.62 L718.60,870.01 L713.74,872.35 L708.95,874.66 L704.21,876.92 L699.54,879.13 L694.93,881.29 L690.38,883.41 L685.90,885.47 L681.49,887.48 L677.14,889.45 L672.85,891.36 L668.62,893.21 L664.46,895.02 L660.35,896.77 L656.30,898.47 L652.30,900.12 L648.35,901.72 L644.45,903.27 L640.59,904.77 L636.77,906.22 L632.99,907.62 L629.24,908.97 L625.52,910.27 L621.83,911.52 L618.15,912.72 L614.48,913.88 L610.82,914.99 L607.15,916.06 L603.48,917.09 L599.79,918.08 L596.09,919.04 L592.35,919.95 L588.59,920.84 L584.78,921.69 L580.93,922.50 L577.02,923.29 L573.07,924.05 L569.06,924.79 L564.98,925.49 L560.84,926.17 L556.64,926.83 L552.37,927.46 L548.04,928.07 L543.65,928.66 L539.20,929.23 L534.70,929.77 L530.15,930.29 L525.57,930.79 L520.96,931.27 L516.34,931.73 L511.73,932.17 L507.13,932.58 L502.57,932.98 L498.07,933.35 L493.65,933.70 L489.33,934.03 L485.12,934.33 L481.07,934.61 L477.18,934.88 L473.48,935.11 L469.99,935.33 L466.73,935.52 L463.71,935.70 L460.94,935.85 L458.44,935.98 L456.21,936.10 L454.24,936.20 L452.55,936.28 L451.11,936.34 L449.92,936.40 L448.97,936.44 L448.24,936.47 L447.70,936.49 L447.32,936.51 L447.09,936.52 L446.97,936.52 L446.92,936.52 L446.92,936.52Z" fill="#C1B1D6" stroke="#C1B1D6" stroke-width="1.80" stroke-linejoin="round"/>
<path d="M446.92,316.28 L446.92,316.28 L446.97,316.29 L447.09,316.29 L447.32,316.31 L447.70,316.34 L448.24,316.39 L448.97,316.46 L449.92,316.54 L451.11,316.65 L452.55,316.79 L454.24,316.97 L456.21,317.17 L458.44,317.41 L460.94,317.70 L463.71,318.02 L466.73,318.38 L469.99,318.80 L473.48,319.25 L477.18,319.75 L481.07,320.30 L485.12,320.90 L489.33,321.54 L493.65,322.23 L498.07,322.97 L502.57,323.76 L507.13,324.59 L511.73,325.46 L516.34,326.38 L520.96,327.35 L525.57,328.36 L530.15,329.42 L534.70,330.52 L539.20,331.67 L543.65,332.86 L548.04,334.10 L552.37,335.39 L556.64,336.72 L560.84,338.10 L564.98,339.54 L569.06,341.03 L573.07,342.58 L577.02,344.18 L580.93,345.84 L584.78,347.57 L588.59,349.36 L592.35,351.22 L596.09,353.16 L599.79,355.17 L603.48,357.26 L607.15,359.43 L610.82,361.69 L614.48,364.03 L618.15,366.48 L621.83,369.01 L625.52,371.65 L629.24,374.39 L632.99,377.24 L636.77,380.19 L640.59,383.24 L644.45,386.40 L648.35,389.67 L652.30,393.04 L656.30,396.52 L660.35,400.11 L664.46,403.81 L668.62,407.61 L672.85,411.53 L677.14,415.56 L681.49,419.69 L685.90,423.94 L690.38,428.29 L694.93,432.75 L699.54,437.32 L704.21,441.98 L708.95,446.74 L713.74,451.60 L718.60,456.55 L723.51,461.58 L728.48,466.70 L733.49,471.89 L738.56,477.16 L743.66,482.49 L748.81,487.87 L753.99,493.31 L759.20,498.80 L764.44,504.32 L769.70,509.88 L774.97,515.45 L780.26,521.05 L785.55,526.65 L790.84,532.25 L796.13,537.84 L801.40,543.42 L806.66,548.97 L811.90,554.50 L817.11,559.98 L822.29,565.42 L827.44,570.81 L832.54,576.14 L837.61,581.40 L842.62,586.60 L847.59,591.71 L852.50,596.75 L857.36,601.70 L862.15,606.55 L866.89,611.32 L871.56,615.98 L876.17,620.54 L880.72,625.00 L885.20,629.36 L889.61,633.60 L893.96,637.74 L898.25,641.77 L902.48,645.68 L906.64,649.49 L910.75,653.19 L914.80,656.78 L918.80,660.26 L922.75,663.63 L926.65,666.89 L930.51,670.05 L934.33,673.11 L938.11,676.06 L941.86,678.90 L945.58,681.64 L949.27,684.28 L952.95,686.82 L956.62,689.26 L960.28,691.61 L963.95,693.87 L967.62,696.04 L971.31,698.13 L975.01,700.14 L978.75,702.07 L982.51,703.94 L986.32,705.73 L990.17,707.45 L994.08,709.12 L998.03,710.72 L1002.04,712.27 L1006.12,713.76 L1010.26,715.19 L1014.46,716.58 L1018.73,717.91 L1023.06,719.20 L1027.45,720.44 L1031.90,721.63 L1036.40,722.78 L1040.95,723.88 L1045.53,724.93 L1050.14,725.95 L1054.76,726.91 L1059.37,727.83 L1063.97,728.71 L1068.53,729.54 L1073.03,730.33 L1077.45,731.06 L1081.77,731.75 L1085.98,732.40 L1090.03,732.99 L1093.92,733.54 L1097.62,734.05 L1101.11,734.50 L1104.37,734.91 L1107.39,735.28 L1110.16,735.60 L1112.66,735.88 L1114.89,736.13 L1116.86,736.33 L1118.55,736.50 L1119.99,736.64 L1121.18,736.76 L1122.13,736.84 L1122.86,736.91 L1123.40,736.95 L1123.78,736.98 L1124.01,737.00 L1124.13,737.01 L1124.18,737.02 L1124.18,737.02 L1124.18,753.97 L1124.18,753.97 L1124.13,753.97 L1124.01,753.96 L1123.78,753.94 L1123.40,753.91 L1122.86,753.87 L1122.13,753.80 L1121.18,753.71 L1119.99,753.60 L1118.55,753.46 L1116.86,753.29 L1114.89,753.08 L1112.66,752.84 L1110.16,752.56 L1107.39,752.24 L1104.37,751.87 L1101.11,751.46 L1097.62,751.01 L1093.92,750.50 L1090.03,749.95 L1085.98,749.36 L1081.77,748.71 L1077.45,748.02 L1073.03,747.28 L1068.53,746.50 L1063.97,745.67 L1059.37,744.79 L1054.76,743.87 L1050.14,742.90 L1045.53,741.89 L1040.95,740.84 L1036.40,739.73 L1031.90,738.59 L1027.45,737.40 L1023.06,736.16 L1018.73,734.87 L1014.46,733.54 L1010.26,732.15 L1006.12,730.72 L1002.04,729.23 L998.03,727.68 L994.08,726.08 L990.17,724.41 L986.32,722.69 L982.51,720.89 L978.75,719.03 L975.01,717.10 L971.31,715.09 L967.62,713.00 L963.95,710.83 L960.28,708.57 L956.62,706.22 L952.95,703.78 L949.27,701.24 L945.58,698.60 L941.86,695.86 L938.11,693.02 L934.33,690.07 L930.51,687.01 L926.65,683.85 L922.75,680.59 L918.80,677.21 L914.80,673.74 L910.75,670.15 L906.64,666.45 L902.48,662.64 L898.25,658.73 L893.96,654.70 L889.61,650.56 L885.20,646.32 L880.72,641.96 L876.17,637.50 L871.56,632.94 L866.89,628.27 L862.15,623.51 L857.36,618.65 L852.50,613.71 L847.59,608.67 L842.62,603.56 L837.61,598.36 L832.54,593.10 L827.44,587.77 L822.29,582.38 L817.11,576.94 L811.90,571.46 L806.66,565.93 L801.40,560.38 L796.13,554.80 L790.84,549.21 L785.55,543.61 L780.26,538.01 L774.97,532.41 L769.70,526.84 L764.44,521.28 L759.20,515.76 L753.99,510.27 L748.81,504.83 L743.66,499.45 L738.56,494.12 L733.49,488.85 L728.48,483.66 L723.51,478.54 L718.60,473.51 L713.74,468.56 L708.95,463.70 L704.21,458.94 L699.54,454.28 L694.93,449.71 L690.38,445.25 L685.90,440.90 L681.49,436.65 L677.14,432.52 L672.85,428.49 L668.62,424.57 L664.46,420.76 L660.35,417.07 L656.30,413.48 L652.30,410.00 L648.35,406.63 L644.45,403.36 L640.59,400.20 L636.77,397.15 L632.99,394.20 L629.24,391.35 L625.52,388.61 L621.83,385.97 L618.15,383.44 L614.48,380.99 L610.82,378.65 L607.15,376.39 L603.48,374.22 L599.79,372.13 L596.09,370.12 L592.35,368.18 L588.59,366.32 L584.78,364.53 L580.93,362.80 L577.02,361.14 L573.07,359.53 L569.06,357.99 L564.98,356.50 L560.84,355.06 L556.64,353.68 L552.37,352.34 L548.04,351.06 L543.65,349.82 L539.20,348.63 L534.70,347.48 L530.15,346.38 L525.57,345.32 L520.96,344.31 L516.34,343.34 L511.73,342.42 L507.13,341.55 L502.57,340.72 L498.07,339.93 L493.65,339.19 L489.33,338.50 L485.12,337.86 L481.07,337.26 L477.18,336.71 L473.48,336.21 L469.99,335.75 L466.73,335.34 L463.71,334.98 L460.94,334.65 L458.44,334.37 L456.21,334.13 L454.24,333.92 L452.55,333.75 L451.11,333.61 L449.92,333.50 L448.97,333.41 L448.24,333.35 L447.70,333.30 L447.32,333.27 L447.09,333.25 L446.97,333.24 L446.92,333.24 L446.92,333.24Z" fill="#FDC38A" stroke="#FDC38A" stroke-width="1.80" stroke-linejoin="round"/>
<path d="M446.92,467.77 L446.92,467.77 L446.97,467.77 L447.09,467.78 L447.32,467.79 L447.70,467.81 L448.24,467.84 L448.97,467.89 L449.92,467.95 L451.11,468.02 L452.55,468.12 L454.24,468.23 L456.21,468.37 L458.44,468.54 L460.94,468.73 L463.71,468.95 L466.73,469.20 L469.99,469.48 L473.48,469.79 L477.18,470.13 L481.07,470.50 L485.12,470.91 L489.33,471.35 L493.65,471.82 L498.07,472.32 L502.57,472.85 L507.13,473.42 L511.73,474.01 L516.34,474.64 L520.96,475.30 L525.57,475.99 L530.15,476.71 L534.70,477.46 L539.20,478.24 L543.65,479.05 L548.04,479.89 L552.37,480.76 L556.64,481.67 L560.84,482.61 L564.98,483.59 L569.06,484.60 L573.07,485.66 L577.02,486.75 L580.93,487.88 L584.78,489.05 L588.59,490.27 L592.35,491.54 L596.09,492.85 L599.79,494.22 L603.48,495.64 L607.15,497.12 L610.82,498.66 L614.48,500.25 L618.15,501.91 L621.83,503.64 L625.52,505.43 L629.24,507.30 L632.99,509.23 L636.77,511.24 L640.59,513.32 L644.45,515.47 L648.35,517.69 L652.30,519.99 L656.30,522.35 L660.35,524.79 L664.46,527.31 L668.62,529.90 L672.85,532.56 L677.14,535.30 L681.49,538.12 L685.90,541.00 L690.38,543.97 L694.93,547.00 L699.54,550.10 L704.21,553.28 L708.95,556.52 L713.74,559.82 L718.60,563.19 L723.51,566.61 L728.48,570.09 L733.49,573.62 L738.56,577.21 L743.66,580.83 L748.81,584.50 L753.99,588.20 L759.20,591.93 L764.44,595.68 L769.70,599.46 L774.97,603.26 L780.26,607.06 L785.55,610.87 L790.84,614.68 L796.13,618.49 L801.40,622.28 L806.66,626.06 L811.90,629.82 L817.11,633.55 L822.29,637.25 L827.44,640.91 L832.54,644.54 L837.61,648.12 L842.62,651.65 L847.59,655.13 L852.50,658.56 L857.36,661.92 L862.15,665.23 L866.89,668.47 L871.56,671.64 L876.17,674.74 L880.72,677.78 L885.20,680.74 L889.61,683.63 L893.96,686.44 L898.25,689.18 L902.48,691.85 L906.64,694.44 L910.75,696.95 L914.80,699.39 L918.80,701.76 L922.75,704.05 L926.65,706.27 L930.51,708.42 L934.33,710.50 L938.11,712.51 L941.86,714.44 L945.58,716.31 L949.27,718.10 L952.95,719.83 L956.62,721.49 L960.28,723.09 L963.95,724.62 L967.62,726.10 L971.31,727.52 L975.01,728.89 L978.75,730.21 L982.51,731.47 L986.32,732.69 L990.17,733.87 L994.08,735.00 L998.03,736.09 L1002.04,737.14 L1006.12,738.15 L1010.26,739.13 L1014.46,740.07 L1018.73,740.98 L1023.06,741.85 L1027.45,742.70 L1031.90,743.51 L1036.40,744.29 L1040.95,745.04 L1045.53,745.76 L1050.14,746.44 L1054.76,747.10 L1059.37,747.73 L1063.97,748.32 L1068.53,748.89 L1073.03,749.42 L1077.45,749.93 L1081.77,750.40 L1085.98,750.83 L1090.03,751.24 L1093.92,751.61 L1097.62,751.95 L1101.11,752.26 L1104.37,752.54 L1107.39,752.79 L1110.16,753.01 L1112.66,753.20 L1114.89,753.37 L1116.86,753.51 L1118.55,753.63 L1119.99,753.72 L1121.18,753.80 L1122.13,753.86 L1122.86,753.90 L1123.40,753.93 L1123.78,753.95 L1124.01,753.97 L1124.13,753.97 L1124.18,753.97 L1124.18,753.97 L1124.18,756.45 L1124.18,756.45 L1124.13,756.45 L1124.01,756.44 L1123.78,756.43 L1123.40,756.41 L1122.86,756.38 L1122.13,756.33 L1121.18,756.27 L1119.99,756.20 L1118.55,756.10 L1116.86,755.99 L1114.89,755.85 L1112.66,755.68 L1110.16,755.49 L1107.39,755.27 L1104.37,755.02 L1101.11,754.74 L1097.62,754.43 L1093.92,754.09 L1090.03,753.72 L1085.98,753.31 L1081.77,752.87 L1077.45,752.40 L1073.03,751.90 L1068.53,751.37 L1063.97,750.80 L1059.37,750.21 L1054.76,749.58 L1050.14,748.92 L1045.53,748.23 L1040.95,747.51 L1036.40,746.77 L1031.90,745.99 L1027.45,745.17 L1023.06,744.33 L1018.73,743.46 L1014.46,742.55 L1010.26,741.61 L1006.12,740.63 L1002.04,739.62 L998.03,738.57 L994.08,737.47 L990.17,736.34 L986.32,735.17 L982.51,733.95 L978.75,732.68 L975.01,731.37 L971.31,730.00 L967.62,728.58 L963.95,727.10 L960.28,725.56 L956.62,723.97 L952.95,722.31 L949.27,720.58 L945.58,718.79 L941.86,716.92 L938.11,714.99 L934.33,712.98 L930.51,710.90 L926.65,708.75 L922.75,706.53 L918.80,704.24 L914.80,701.87 L910.75,699.43 L906.64,696.91 L902.48,694.32 L898.25,691.66 L893.96,688.92 L889.61,686.10 L885.20,683.22 L880.72,680.25 L876.17,677.22 L871.56,674.12 L866.89,670.94 L862.15,667.70 L857.36,664.40 L852.50,661.03 L847.59,657.61 L842.62,654.13 L837.61,650.60 L832.54,647.02 L827.44,643.39 L822.29,639.73 L817.11,636.02 L811.90,632.29 L806.66,628.54 L801.40,624.76 L796.13,620.96 L790.84,617.16 L785.55,613.35 L780.26,609.54 L774.97,605.73 L769.70,601.94 L764.44,598.16 L759.20,594.40 L753.99,590.67 L748.81,586.97 L743.66,583.31 L738.56,579.68 L733.49,576.10 L728.48,572.57 L723.51,569.09 L718.60,565.66 L713.74,562.30 L708.95,558.99 L704.21,555.75 L699.54,552.58 L694.93,549.48 L690.38,546.44 L685.90,543.48 L681.49,540.59 L677.14,537.78 L672.85,535.04 L668.62,532.37 L664.46,529.78 L660.35,527.27 L656.30,524.83 L652.30,522.46 L648.35,520.17 L644.45,517.95 L640.59,515.80 L636.77,513.72 L632.99,511.71 L629.24,509.78 L625.52,507.91 L621.83,506.12 L618.15,504.39 L614.48,502.73 L610.82,501.13 L607.15,499.60 L603.48,498.12 L599.79,496.70 L596.09,495.33 L592.35,494.02 L588.59,492.75 L584.78,491.53 L580.93,490.35 L577.02,489.22 L573.07,488.13 L569.06,487.08 L564.98,486.07 L560.84,485.09 L556.64,484.15 L552.37,483.24 L548.04,482.37 L543.65,481.52 L539.20,480.71 L534.70,479.93 L530.15,479.18 L525.57,478.46 L520.96,477.78 L516.34,477.12 L511.73,476.49 L507.13,475.90 L502.57,475.33 L498.07,474.80 L493.65,474.29 L489.33,473.82 L485.12,473.39 L481.07,472.98 L477.18,472.61 L473.48,472.27 L469.99,471.96 L466.73,471.68 L463.71,471.43 L460.94,471.21 L458.44,471.02 L456.21,470.85 L454.24,470.71 L452.55,470.59 L451.11,470.50 L449.92,470.42 L448.97,470.36 L448.24,470.32 L447.70,470.29 L447.32,470.27 L447.09,470.25 L446.97,470.25 L446.92,470.25 L446.92,470.25Z" fill="#FDC38A" stroke="#FDC38A" stroke-width="1.80" stroke-linejoin="round"/>
<path d="M446.92,487.59 L446.92,487.59 L446.97,487.59 L447.09,487.59 L447.32,487.61 L447.70,487.63 L448.24,487.66 L448.97,487.70 L449.92,487.75 L451.11,487.82 L452.55,487.91 L454.24,488.02 L456.21,488.15 L458.44,488.31 L460.94,488.49 L463.71,488.70 L466.73,488.93 L469.99,489.19 L473.48,489.48 L477.18,489.80 L481.07,490.16 L485.12,490.54 L489.33,490.95 L493.65,491.39 L498.07,491.86 L502.57,492.36 L507.13,492.89 L511.73,493.45 L516.34,494.04 L520.96,494.66 L525.57,495.31 L530.15,495.98 L534.70,496.69 L539.20,497.42 L543.65,498.18 L548.04,498.97 L552.37,499.79 L556.64,500.65 L560.84,501.53 L564.98,502.45 L569.06,503.40 L573.07,504.39 L577.02,505.41 L580.93,506.48 L584.78,507.58 L588.59,508.73 L592.35,509.92 L596.09,511.15 L599.79,512.44 L603.48,513.77 L607.15,515.16 L610.82,516.60 L614.48,518.10 L618.15,519.66 L621.83,521.28 L625.52,522.97 L629.24,524.72 L632.99,526.54 L636.77,528.42 L640.59,530.38 L644.45,532.40 L648.35,534.48 L652.30,536.64 L656.30,538.86 L660.35,541.15 L664.46,543.52 L668.62,545.95 L672.85,548.45 L677.14,551.03 L681.49,553.67 L685.90,556.38 L690.38,559.17 L694.93,562.02 L699.54,564.93 L704.21,567.91 L708.95,570.96 L713.74,574.06 L718.60,577.22 L723.51,580.44 L728.48,583.71 L733.49,587.03 L738.56,590.39 L743.66,593.80 L748.81,597.24 L753.99,600.72 L759.20,604.22 L764.44,607.75 L769.70,611.30 L774.97,614.87 L780.26,618.44 L785.55,622.02 L790.84,625.60 L796.13,629.17 L801.40,632.74 L806.66,636.29 L811.90,639.82 L817.11,643.32 L822.29,646.80 L827.44,650.24 L832.54,653.65 L837.61,657.01 L842.62,660.33 L847.59,663.60 L852.50,666.81 L857.36,669.98 L862.15,673.08 L866.89,676.12 L871.56,679.11 L876.17,682.02 L880.72,684.87 L885.20,687.65 L889.61,690.37 L893.96,693.01 L898.25,695.58 L902.48,698.09 L906.64,700.52 L910.75,702.88 L914.80,705.18 L918.80,707.40 L922.75,709.55 L926.65,711.64 L930.51,713.66 L934.33,715.61 L938.11,717.50 L941.86,719.32 L945.58,721.07 L949.27,722.75 L952.95,724.38 L956.62,725.94 L960.28,727.44 L963.95,728.88 L967.62,730.27 L971.31,731.60 L975.01,732.89 L978.75,734.12 L982.51,735.31 L986.32,736.46 L990.17,737.56 L994.08,738.62 L998.03,739.65 L1002.04,740.64 L1006.12,741.59 L1010.26,742.51 L1014.46,743.39 L1018.73,744.24 L1023.06,745.07 L1027.45,745.86 L1031.90,746.62 L1036.40,747.35 L1040.95,748.06 L1045.53,748.73 L1050.14,749.38 L1054.76,750.00 L1059.37,750.58 L1063.97,751.14 L1068.53,751.68 L1073.03,752.18 L1077.45,752.65 L1081.77,753.09 L1085.98,753.50 L1090.03,753.88 L1093.92,754.23 L1097.62,754.55 L1101.11,754.85 L1104.37,755.11 L1107.39,755.34 L1110.16,755.55 L1112.66,755.73 L1114.89,755.88 L1116.86,756.01 L1118.55,756.12 L1119.99,756.21 L1121.18,756.29 L1122.13,756.34 L1122.86,756.38 L1123.40,756.41 L1123.78,756.43 L1124.01,756.44 L1124.13,756.45 L1124.18,756.45 L1124.18,756.45 L1124.18,760.26 L1124.18,760.26 L1124.13,760.26 L1124.01,760.25 L1123.78,760.24 L1123.40,760.22 L1122.86,760.19 L1122.13,760.15 L1121.18,760.10 L1119.99,760.02 L1118.55,759.94 L1116.86,759.83 L1114.89,759.69 L1112.66,759.54 L1110.16,759.36 L1107.39,759.15 L1104.37,758.92 L1101.11,758.66 L1097.62,758.37 L1093.92,758.04 L1090.03,757.69 L1085.98,757.31 L1081.77,756.90 L1077.45,756.46 L1073.03,755.99 L1068.53,755.49 L1063.97,754.96 L1059.37,754.40 L1054.76,753.81 L1050.14,753.19 L1045.53,752.54 L1040.95,751.87 L1036.40,751.16 L1031.90,750.43 L1027.45,749.67 L1023.06,748.88 L1018.73,748.05 L1014.46,747.20 L1010.26,746.32 L1006.12,745.40 L1002.04,744.45 L998.03,743.46 L994.08,742.44 L990.17,741.37 L986.32,740.27 L982.51,739.12 L978.75,737.93 L975.01,736.70 L971.31,735.41 L967.62,734.08 L963.95,732.69 L960.28,731.25 L956.62,729.75 L952.95,728.19 L949.27,726.56 L945.58,724.88 L941.86,723.13 L938.11,721.31 L934.33,719.43 L930.51,717.47 L926.65,715.45 L922.75,713.36 L918.80,711.21 L914.80,708.99 L910.75,706.69 L906.64,704.33 L902.48,701.90 L898.25,699.40 L893.96,696.82 L889.61,694.18 L885.20,691.46 L880.72,688.68 L876.17,685.83 L871.56,682.92 L866.89,679.94 L862.15,676.89 L857.36,673.79 L852.50,670.63 L847.59,667.41 L842.62,664.14 L837.61,660.82 L832.54,657.46 L827.44,654.05 L822.29,650.61 L817.11,647.13 L811.90,643.63 L806.66,640.10 L801.40,636.55 L796.13,632.98 L790.84,629.41 L785.55,625.83 L780.26,622.25 L774.97,618.68 L769.70,615.11 L764.44,611.56 L759.20,608.03 L753.99,604.53 L748.81,601.05 L743.66,597.61 L738.56,594.20 L733.49,590.84 L728.48,587.52 L723.51,584.25 L718.60,581.03 L713.74,577.87 L708.95,574.77 L704.21,571.72 L699.54,568.74 L694.93,565.83 L690.38,562.98 L685.90,560.20 L681.49,557.48 L677.14,554.84 L672.85,552.26 L668.62,549.76 L664.46,547.33 L660.35,544.97 L656.30,542.67 L652.30,540.45 L648.35,538.30 L644.45,536.21 L640.59,534.19 L636.77,532.23 L632.99,530.35 L629.24,528.53 L625.52,526.78 L621.83,525.10 L618.15,523.47 L614.48,521.91 L610.82,520.41 L607.15,518.97 L603.48,517.58 L599.79,516.25 L596.09,514.96 L592.35,513.73 L588.59,512.54 L584.78,511.39 L580.93,510.29 L577.02,509.22 L573.07,508.20 L569.06,507.21 L564.98,506.26 L560.84,505.34 L556.64,504.46 L552.37,503.60 L548.04,502.78 L543.65,501.99 L539.20,501.23 L534.70,500.50 L530.15,499.79 L525.57,499.12 L520.96,498.47 L516.34,497.85 L511.73,497.26 L507.13,496.70 L502.57,496.17 L498.07,495.67 L493.65,495.20 L489.33,494.76 L485.12,494.35 L481.07,493.97 L477.18,493.62 L473.48,493.29 L469.99,493.00 L466.73,492.74 L463.71,492.51 L460.94,492.30 L458.44,492.12 L456.21,491.97 L454.24,491.83 L452.55,491.72 L451.11,491.63 L449.92,491.56 L448.97,491.51 L448.24,491.47 L447.70,491.44 L447.32,491.42 L447.09,491.41 L446.97,491.40 L446.92,491.40 L446.92,491.40Z" fill="#FDC38A" stroke="#FDC38A" stroke-width="1.80" stroke-linejoin="round"/>
<path d="M446.92,647.08 L446.92,647.08 L446.97,647.08 L447.09,647.08 L447.32,647.08 L447.70,647.09 L448.24,647.11 L448.97,647.12 L449.92,647.15 L451.11,647.18 L452.55,647.21 L454.24,647.26 L456.21,647.32 L458.44,647.38 L460.94,647.46 L463.71,647.54 L466.73,647.64 L469.99,647.75 L473.48,647.88 L477.18,648.01 L481.07,648.16 L485.12,648.32 L489.33,648.49 L493.65,648.68 L498.07,648.88 L502.57,649.09 L507.13,649.31 L511.73,649.55 L516.34,649.79 L520.96,650.05 L525.57,650.33 L530.15,650.61 L534.70,650.91 L539.20,651.22 L543.65,651.54 L548.04,651.87 L552.37,652.22 L556.64,652.57 L560.84,652.95 L564.98,653.33 L569.06,653.73 L573.07,654.15 L577.02,654.58 L580.93,655.03 L584.78,655.49 L588.59,655.98 L592.35,656.48 L596.09,657.00 L599.79,657.54 L603.48,658.10 L607.15,658.68 L610.82,659.29 L614.48,659.92 L618.15,660.58 L621.83,661.26 L625.52,661.97 L629.24,662.71 L632.99,663.47 L636.77,664.27 L640.59,665.09 L644.45,665.94 L648.35,666.82 L652.30,667.73 L656.30,668.66 L660.35,669.63 L664.46,670.62 L668.62,671.65 L672.85,672.70 L677.14,673.78 L681.49,674.90 L685.90,676.04 L690.38,677.21 L694.93,678.41 L699.54,679.64 L704.21,680.89 L708.95,682.17 L713.74,683.48 L718.60,684.81 L723.51,686.17 L728.48,687.54 L733.49,688.94 L738.56,690.36 L743.66,691.79 L748.81,693.24 L753.99,694.70 L759.20,696.18 L764.44,697.66 L769.70,699.16 L774.97,700.66 L780.26,702.16 L785.55,703.67 L790.84,705.18 L796.13,706.68 L801.40,708.18 L806.66,709.68 L811.90,711.16 L817.11,712.64 L822.29,714.10 L827.44,715.55 L832.54,716.98 L837.61,718.40 L842.62,719.80 L847.59,721.17 L852.50,722.53 L857.36,723.86 L862.15,725.17 L866.89,726.45 L871.56,727.70 L876.17,728.93 L880.72,730.13 L885.20,731.30 L889.61,732.44 L893.96,733.56 L898.25,734.64 L902.48,735.69 L906.64,736.72 L910.75,737.71 L914.80,738.68 L918.80,739.61 L922.75,740.52 L926.65,741.40 L930.51,742.25 L934.33,743.07 L938.11,743.86 L941.86,744.63 L945.58,745.37 L949.27,746.08 L952.95,746.76 L956.62,747.42 L960.28,748.05 L963.95,748.66 L967.62,749.24 L971.31,749.80 L975.01,750.34 L978.75,750.86 L982.51,751.36 L986.32,751.85 L990.17,752.31 L994.08,752.76 L998.03,753.19 L1002.04,753.60 L1006.12,754.01 L1010.26,754.39 L1014.46,754.76 L1018.73,755.12 L1023.06,755.47 L1027.45,755.80 L1031.90,756.12 L1036.40,756.43 L1040.95,756.73 L1045.53,757.01 L1050.14,757.28 L1054.76,757.54 L1059.37,757.79 L1063.97,758.03 L1068.53,758.25 L1073.03,758.46 L1077.45,758.66 L1081.77,758.85 L1085.98,759.02 L1090.03,759.18 L1093.92,759.33 L1097.62,759.46 L1101.11,759.59 L1104.37,759.70 L1107.39,759.80 L1110.16,759.88 L1112.66,759.96 L1114.89,760.02 L1116.86,760.08 L1118.55,760.12 L1119.99,760.16 L1121.18,760.19 L1122.13,760.22 L1122.86,760.23 L1123.40,760.25 L1123.78,760.25 L1124.01,760.26 L1124.13,760.26 L1124.18,760.26 L1124.18,760.26 L1124.18,900.89 L1124.18,900.89 L1124.13,900.89 L1124.01,900.89 L1123.78,900.88 L1123.40,900.87 L1122.86,900.86 L1122.13,900.84 L1121.18,900.82 L1119.99,900.79 L1118.55,900.75 L1116.86,900.70 L1114.89,900.65 L1112.66,900.58 L1110.16,900.51 L1107.39,900.42 L1104.37,900.32 L1101.11,900.21 L1097.62,900.09 L1093.92,899.95 L1090.03,899.81 L1085.98,899.65 L1081.77,899.47 L1077.45,899.29 L1073.03,899.09 L1068.53,898.88 L1063.97,898.65 L1059.37,898.42 L1054.76,898.17 L1050.14,897.91 L1045.53,897.64 L1040.95,897.35 L1036.40,897.06 L1031.90,896.75 L1027.45,896.43 L1023.06,896.10 L1018.73,895.75 L1014.46,895.39 L1010.26,895.02 L1006.12,894.63 L1002.04,894.23 L998.03,893.81 L994.08,893.38 L990.17,892.94 L986.32,892.47 L982.51,891.99 L978.75,891.49 L975.01,890.97 L971.31,890.43 L967.62,889.87 L963.95,889.28 L960.28,888.67 L956.62,888.04 L952.95,887.39 L949.27,886.70 L945.58,885.99 L941.86,885.26 L938.11,884.49 L934.33,883.70 L930.51,882.87 L926.65,882.02 L922.75,881.15 L918.80,880.24 L914.80,879.30 L910.75,878.34 L906.64,877.34 L902.48,876.32 L898.25,875.26 L893.96,874.18 L889.61,873.07 L885.20,871.93 L880.72,870.75 L876.17,869.56 L871.56,868.33 L866.89,867.07 L862.15,865.79 L857.36,864.48 L852.50,863.15 L847.59,861.80 L842.62,860.42 L837.61,859.03 L832.54,857.61 L827.44,856.18 L822.29,854.73 L817.11,853.26 L811.90,851.79 L806.66,850.30 L801.40,848.81 L796.13,847.31 L790.84,845.80 L785.55,844.30 L780.26,842.79 L774.97,841.28 L769.70,839.78 L764.44,838.29 L759.20,836.80 L753.99,835.33 L748.81,833.86 L743.66,832.41 L738.56,830.98 L733.49,829.57 L728.48,828.17 L723.51,826.79 L718.60,825.44 L713.74,824.11 L708.95,822.80 L704.21,821.52 L699.54,820.26 L694.93,819.04 L690.38,817.84 L685.90,816.66 L681.49,815.52 L677.14,814.41 L672.85,813.33 L668.62,812.27 L664.46,811.25 L660.35,810.25 L656.30,809.29 L652.30,808.35 L648.35,807.45 L644.45,806.57 L640.59,805.72 L636.77,804.89 L632.99,804.10 L629.24,803.34 L625.52,802.60 L621.83,801.89 L618.15,801.21 L614.48,800.55 L610.82,799.92 L607.15,799.31 L603.48,798.73 L599.79,798.16 L596.09,797.62 L592.35,797.10 L588.59,796.60 L584.78,796.12 L580.93,795.65 L577.02,795.21 L573.07,794.78 L569.06,794.36 L564.98,793.96 L560.84,793.57 L556.64,793.20 L552.37,792.84 L548.04,792.50 L543.65,792.16 L539.20,791.84 L534.70,791.53 L530.15,791.24 L525.57,790.95 L520.96,790.68 L516.34,790.42 L511.73,790.17 L507.13,789.94 L502.57,789.71 L498.07,789.50 L493.65,789.30 L489.33,789.12 L485.12,788.94 L481.07,788.78 L477.18,788.64 L473.48,788.50 L469.99,788.38 L466.73,788.27 L463.71,788.17 L460.94,788.08 L458.44,788.01 L456.21,787.94 L454.24,787.89 L452.55,787.84 L451.11,787.80 L449.92,787.77 L448.97,787.75 L448.24,787.73 L447.70,787.72 L447.32,787.71 L447.09,787.71 L446.97,787.70 L446.92,787.70 L446.92,787.70Z" fill="#FDC38A" stroke="#FDC38A" stroke-width="1.80" stroke-linejoin="round"/>
<path d="M446.92,936.52 L446.92,936.52 L446.97,936.52 L447.09,936.52 L447.32,936.52 L447.70,936.52 L448.24,936.51 L448.97,936.51 L449.92,936.50 L451.11,936.49 L452.55,936.48 L454.24,936.46 L456.21,936.45 L458.44,936.43 L460.94,936.40 L463.71,936.37 L466.73,936.34 L469.99,936.31 L473.48,936.27 L477.18,936.23 L481.07,936.18 L485.12,936.13 L489.33,936.08 L493.65,936.02 L498.07,935.95 L502.57,935.89 L507.13,935.82 L511.73,935.74 L516.34,935.67 L520.96,935.58 L525.57,935.50 L530.15,935.41 L534.70,935.32 L539.20,935.22 L543.65,935.12 L548.04,935.01 L552.37,934.90 L556.64,934.79 L560.84,934.67 L564.98,934.55 L569.06,934.43 L573.07,934.29 L577.02,934.16 L580.93,934.02 L584.78,933.87 L588.59,933.72 L592.35,933.56 L596.09,933.40 L599.79,933.23 L603.48,933.05 L607.15,932.87 L610.82,932.68 L614.48,932.48 L618.15,932.27 L621.83,932.06 L625.52,931.83 L629.24,931.60 L632.99,931.36 L636.77,931.11 L640.59,930.85 L644.45,930.58 L648.35,930.31 L652.30,930.02 L656.30,929.73 L660.35,929.42 L664.46,929.11 L668.62,928.79 L672.85,928.45 L677.14,928.11 L681.49,927.76 L685.90,927.40 L690.38,927.03 L694.93,926.66 L699.54,926.27 L704.21,925.88 L708.95,925.47 L713.74,925.06 L718.60,924.64 L723.51,924.22 L728.48,923.78 L733.49,923.34 L738.56,922.90 L743.66,922.45 L748.81,921.99 L753.99,921.53 L759.20,921.06 L764.44,920.60 L769.70,920.13 L774.97,919.65 L780.26,919.18 L785.55,918.71 L790.84,918.23 L796.13,917.76 L801.40,917.28 L806.66,916.81 L811.90,916.35 L817.11,915.88 L822.29,915.42 L827.44,914.96 L832.54,914.51 L837.61,914.07 L842.62,913.63 L847.59,913.19 L852.50,912.77 L857.36,912.35 L862.15,911.94 L866.89,911.53 L871.56,911.14 L876.17,910.75 L880.72,910.38 L885.20,910.01 L889.61,909.65 L893.96,909.30 L898.25,908.96 L902.48,908.62 L906.64,908.30 L910.75,907.99 L914.80,907.68 L918.80,907.39 L922.75,907.10 L926.65,906.83 L930.51,906.56 L934.33,906.30 L938.11,906.05 L941.86,905.81 L945.58,905.58 L949.27,905.35 L952.95,905.14 L956.62,904.93 L960.28,904.73 L963.95,904.54 L967.62,904.36 L971.31,904.18 L975.01,904.01 L978.75,903.85 L982.51,903.69 L986.32,903.54 L990.17,903.39 L994.08,903.25 L998.03,903.12 L1002.04,902.98 L1006.12,902.86 L1010.26,902.74 L1014.46,902.62 L1018.73,902.51 L1023.06,902.40 L1027.45,902.29 L1031.90,902.19 L1036.40,902.09 L1040.95,902.00 L1045.53,901.91 L1050.14,901.83 L1054.76,901.74 L1059.37,901.67 L1063.97,901.59 L1068.53,901.52 L1073.03,901.46 L1077.45,901.39 L1081.77,901.33 L1085.98,901.28 L1090.03,901.23 L1093.92,901.18 L1097.62,901.14 L1101.11,901.10 L1104.37,901.07 L1107.39,901.04 L1110.16,901.01 L1112.66,900.98 L1114.89,900.96 L1116.86,900.95 L1118.55,900.93 L1119.99,900.92 L1121.18,900.91 L1122.13,900.90 L1122.86,900.90 L1123.40,900.89 L1123.78,900.89 L1124.01,900.89 L1124.13,900.89 L1124.18,900.89 L1124.18,900.89 L1124.18,929.47 L1124.18,929.47 L1124.13,929.47 L1124.01,929.47 L1123.78,929.47 L1123.40,929.48 L1122.86,929.48 L1122.13,929.49 L1121.18,929.49 L1119.99,929.50 L1118.55,929.51 L1116.86,929.53 L1114.89,929.55 L1112.66,929.57 L1110.16,929.59 L1107.39,929.62 L1104.37,929.65 L1101.11,929.68 L1097.62,929.72 L1093.92,929.77 L1090.03,929.81 L1085.98,929.86 L1081.77,929.92 L1077.45,929.98 L1073.03,930.04 L1068.53,930.10 L1063.97,930.17 L1059.37,930.25 L1054.76,930.33 L1050.14,930.41 L1045.53,930.49 L1040.95,930.58 L1036.40,930.68 L1031.90,930.77 L1027.45,930.88 L1023.06,930.98 L1018.73,931.09 L1014.46,931.20 L1010.26,931.32 L1006.12,931.44 L1002.04,931.57 L998.03,931.70 L994.08,931.83 L990.17,931.97 L986.32,932.12 L982.51,932.27 L978.75,932.43 L975.01,932.59 L971.31,932.76 L967.62,932.94 L963.95,933.13 L960.28,933.32 L956.62,933.52 L952.95,933.72 L949.27,933.94 L945.58,934.16 L941.86,934.39 L938.11,934.63 L934.33,934.88 L930.51,935.14 L926.65,935.41 L922.75,935.69 L918.80,935.97 L914.80,936.27 L910.75,936.57 L906.64,936.88 L902.48,937.21 L898.25,937.54 L893.96,937.88 L889.61,938.23 L885.20,938.59 L880.72,938.96 L876.17,939.34 L871.56,939.72 L866.89,940.12 L862.15,940.52 L857.36,940.93 L852.50,941.35 L847.59,941.78 L842.62,942.21 L837.61,942.65 L832.54,943.10 L827.44,943.55 L822.29,944.00 L817.11,944.46 L811.90,944.93 L806.66,945.40 L801.40,945.87 L796.13,946.34 L790.84,946.81 L785.55,947.29 L780.26,947.76 L774.97,948.24 L769.70,948.71 L764.44,949.18 L759.20,949.65 L753.99,950.11 L748.81,950.57 L743.66,951.03 L738.56,951.48 L733.49,951.92 L728.48,952.36 L723.51,952.80 L718.60,953.22 L713.74,953.64 L708.95,954.05 L704.21,954.46 L699.54,954.85 L694.93,955.24 L690.38,955.62 L685.90,955.99 L681.49,956.35 L677.14,956.70 L672.85,957.04 L668.62,957.37 L664.46,957.69 L660.35,958.00 L656.30,958.31 L652.30,958.60 L648.35,958.89 L644.45,959.17 L640.59,959.43 L636.77,959.69 L632.99,959.94 L629.24,960.18 L625.52,960.41 L621.83,960.64 L618.15,960.85 L614.48,961.06 L610.82,961.26 L607.15,961.45 L603.48,961.63 L599.79,961.81 L596.09,961.98 L592.35,962.14 L588.59,962.30 L584.78,962.45 L580.93,962.60 L577.02,962.74 L573.07,962.88 L569.06,963.01 L564.98,963.13 L560.84,963.26 L556.64,963.37 L552.37,963.49 L548.04,963.60 L543.65,963.70 L539.20,963.80 L534.70,963.90 L530.15,963.99 L525.57,964.08 L520.96,964.17 L516.34,964.25 L511.73,964.33 L507.13,964.40 L502.57,964.47 L498.07,964.54 L493.65,964.60 L489.33,964.66 L485.12,964.71 L481.07,964.76 L477.18,964.81 L473.48,964.85 L469.99,964.89 L466.73,964.93 L463.71,964.96 L460.94,964.98 L458.44,965.01 L456.21,965.03 L454.24,965.05 L452.55,965.06 L451.11,965.07 L449.92,965.08 L448.97,965.09 L448.24,965.09 L447.70,965.10 L447.32,965.10 L447.09,965.10 L446.97,965.10 L446.92,965.10 L446.92,965.10Z" fill="#FDC38A" stroke="#FDC38A" stroke-width="1.80" stroke-linejoin="round"/>
<path d="M446.92,333.24 L446.92,333.24 L446.97,333.25 L447.09,333.26 L447.32,333.29 L447.70,333.33 L448.24,333.39 L448.97,333.49 L449.92,333.61 L451.11,333.77 L452.55,333.97 L454.24,334.21 L456.21,334.50 L458.44,334.85 L460.94,335.24 L463.71,335.70 L466.73,336.22 L469.99,336.80 L473.48,337.45 L477.18,338.16 L481.07,338.94 L485.12,339.78 L489.33,340.70 L493.65,341.68 L498.07,342.72 L502.57,343.83 L507.13,345.01 L511.73,346.25 L516.34,347.56 L520.96,348.93 L525.57,350.36 L530.15,351.86 L534.70,353.42 L539.20,355.04 L543.65,356.73 L548.04,358.49 L552.37,360.31 L556.64,362.20 L560.84,364.17 L564.98,366.20 L569.06,368.31 L573.07,370.50 L577.02,372.77 L580.93,375.13 L584.78,377.58 L588.59,380.12 L592.35,382.76 L596.09,385.50 L599.79,388.35 L603.48,391.31 L607.15,394.38 L610.82,397.58 L614.48,400.91 L618.15,404.37 L621.83,407.97 L625.52,411.71 L629.24,415.59 L632.99,419.62 L636.77,423.80 L640.59,428.13 L644.45,432.61 L648.35,437.24 L652.30,442.02 L656.30,446.95 L660.35,452.03 L664.46,457.27 L668.62,462.67 L672.85,468.22 L677.14,473.93 L681.49,479.79 L685.90,485.81 L690.38,491.98 L694.93,498.30 L699.54,504.76 L704.21,511.37 L708.95,518.12 L713.74,525.00 L718.60,532.02 L723.51,539.15 L728.48,546.40 L733.49,553.76 L738.56,561.22 L743.66,568.77 L748.81,576.41 L753.99,584.12 L759.20,591.89 L764.44,599.72 L769.70,607.59 L774.97,615.49 L780.26,623.42 L785.55,631.36 L790.84,639.29 L796.13,647.22 L801.40,655.12 L806.66,662.99 L811.90,670.82 L817.11,678.59 L822.29,686.30 L827.44,693.94 L832.54,701.49 L837.61,708.95 L842.62,716.31 L847.59,723.56 L852.50,730.69 L857.36,737.71 L862.15,744.59 L866.89,751.34 L871.56,757.95 L876.17,764.42 L880.72,770.74 L885.20,776.91 L889.61,782.92 L893.96,788.79 L898.25,794.49 L902.48,800.04 L906.64,805.44 L910.75,810.68 L914.80,815.76 L918.80,820.69 L922.75,825.47 L926.65,830.10 L930.51,834.58 L934.33,838.91 L938.11,843.09 L941.86,847.12 L945.58,851.00 L949.27,854.74 L952.95,858.34 L956.62,861.80 L960.28,865.13 L963.95,868.33 L967.62,871.40 L971.31,874.37 L975.01,877.21 L978.75,879.95 L982.51,882.59 L986.32,885.13 L990.17,887.58 L994.08,889.94 L998.03,892.21 L1002.04,894.40 L1006.12,896.51 L1010.26,898.55 L1014.46,900.51 L1018.73,902.40 L1023.06,904.22 L1027.45,905.98 L1031.90,907.67 L1036.40,909.29 L1040.95,910.85 L1045.53,912.35 L1050.14,913.78 L1054.76,915.15 L1059.37,916.46 L1063.97,917.70 L1068.53,918.88 L1073.03,919.99 L1077.45,921.04 L1081.77,922.02 L1085.98,922.93 L1090.03,923.77 L1093.92,924.55 L1097.62,925.26 L1101.11,925.91 L1104.37,926.49 L1107.39,927.01 L1110.16,927.47 L1112.66,927.87 L1114.89,928.21 L1116.86,928.50 L1118.55,928.74 L1119.99,928.94 L1121.18,929.10 L1122.13,929.23 L1122.86,929.32 L1123.40,929.38 L1123.78,929.43 L1124.01,929.45 L1124.13,929.47 L1124.18,929.47 L1124.18,929.47 L1124.18,938.05 L1124.18,938.05 L1124.13,938.04 L1124.01,938.03 L1123.78,938.00 L1123.40,937.96 L1122.86,937.89 L1122.13,937.80 L1121.18,937.68 L1119.99,937.52 L1118.55,937.32 L1116.86,937.08 L1114.89,936.78 L1112.66,936.44 L1110.16,936.04 L1107.39,935.58 L1104.37,935.07 L1101.11,934.48 L1097.62,933.84 L1093.92,933.13 L1090.03,932.35 L1085.98,931.50 L1081.77,930.59 L1077.45,929.61 L1073.03,928.56 L1068.53,927.45 L1063.97,926.28 L1059.37,925.03 L1054.76,923.73 L1050.14,922.36 L1045.53,920.92 L1040.95,919.43 L1036.40,917.87 L1031.90,916.24 L1027.45,914.55 L1023.06,912.80 L1018.73,910.97 L1014.46,909.08 L1010.26,907.12 L1006.12,905.08 L1002.04,902.97 L998.03,900.78 L994.08,898.51 L990.17,896.15 L986.32,893.71 L982.51,891.17 L978.75,888.53 L975.01,885.79 L971.31,882.94 L967.62,879.98 L963.95,876.90 L960.28,873.70 L956.62,870.37 L952.95,866.91 L949.27,863.32 L945.58,859.58 L941.86,855.70 L938.11,851.67 L934.33,847.49 L930.51,843.15 L926.65,838.67 L922.75,834.05 L918.80,829.27 L914.80,824.34 L910.75,819.25 L906.64,814.01 L902.48,808.62 L898.25,803.07 L893.96,797.36 L889.61,791.50 L885.20,785.48 L880.72,779.31 L876.17,772.99 L871.56,766.52 L866.89,759.91 L862.15,753.16 L857.36,746.28 L852.50,739.27 L847.59,732.13 L842.62,724.88 L837.61,717.53 L832.54,710.07 L827.44,702.51 L822.29,694.88 L817.11,687.17 L811.90,679.40 L806.66,671.57 L801.40,663.70 L796.13,655.79 L790.84,647.87 L785.55,639.93 L780.26,631.99 L774.97,624.07 L769.70,616.16 L764.44,608.29 L759.20,600.47 L753.99,592.69 L748.81,584.98 L743.66,577.35 L738.56,569.80 L733.49,562.34 L728.48,554.98 L723.51,547.73 L718.60,540.59 L713.74,533.58 L708.95,526.70 L704.21,519.95 L699.54,513.34 L694.93,506.87 L690.38,500.55 L685.90,494.38 L681.49,488.36 L677.14,482.50 L672.85,476.79 L668.62,471.24 L664.46,465.85 L660.35,460.61 L656.30,455.52 L652.30,450.59 L648.35,445.82 L644.45,441.19 L640.59,436.71 L636.77,432.38 L632.99,428.20 L629.24,424.16 L625.52,420.28 L621.83,416.54 L618.15,412.95 L614.48,409.49 L610.82,406.16 L607.15,402.96 L603.48,399.88 L599.79,396.92 L596.09,394.07 L592.35,391.33 L588.59,388.69 L584.78,386.15 L580.93,383.71 L577.02,381.35 L573.07,379.08 L569.06,376.89 L564.98,374.78 L560.84,372.74 L556.64,370.78 L552.37,368.89 L548.04,367.06 L543.65,365.31 L539.20,363.62 L534.70,361.99 L530.15,360.43 L525.57,358.94 L520.96,357.50 L516.34,356.13 L511.73,354.83 L507.13,353.58 L502.57,352.41 L498.07,351.30 L493.65,350.25 L489.33,349.27 L485.12,348.36 L481.07,347.51 L477.18,346.74 L473.48,346.02 L469.99,345.38 L466.73,344.80 L463.71,344.28 L460.94,343.82 L458.44,343.42 L456.21,343.08 L454.24,342.79 L452.55,342.54 L451.11,342.34 L449.92,342.18 L448.97,342.06 L448.24,341.97 L447.70,341.90 L447.32,341.86 L447.09,341.83 L446.97,341.82 L446.92,341.82 L446.92,341.82Z" fill="#FFFF9D" stroke="#FFFF9D" stroke-width="1.80" stroke-linejoin="round"/>
<path d="M446.92,470.25 L446.92,470.25 L446.97,470.25 L447.09,470.26 L447.32,470.28 L447.70,470.32 L448.24,470.37 L448.97,470.44 L449.92,470.54 L451.11,470.66 L452.55,470.82 L454.24,471.01 L456.21,471.24 L458.44,471.51 L460.94,471.82 L463.71,472.18 L466.73,472.58 L469.99,473.04 L473.48,473.55 L477.18,474.11 L481.07,474.72 L485.12,475.38 L489.33,476.10 L493.65,476.86 L498.07,477.68 L502.57,478.56 L507.13,479.48 L511.73,480.45 L516.34,481.48 L520.96,482.55 L525.57,483.68 L530.15,484.85 L534.70,486.08 L539.20,487.35 L543.65,488.68 L548.04,490.06 L552.37,491.49 L556.64,492.97 L560.84,494.51 L564.98,496.11 L569.06,497.76 L573.07,499.48 L577.02,501.26 L580.93,503.11 L584.78,505.03 L588.59,507.03 L592.35,509.10 L596.09,511.25 L599.79,513.48 L603.48,515.80 L607.15,518.22 L610.82,520.73 L614.48,523.34 L618.15,526.06 L621.83,528.88 L625.52,531.81 L629.24,534.86 L632.99,538.02 L636.77,541.30 L640.59,544.70 L644.45,548.21 L648.35,551.84 L652.30,555.59 L656.30,559.46 L660.35,563.45 L664.46,567.56 L668.62,571.79 L672.85,576.15 L677.14,580.63 L681.49,585.23 L685.90,589.95 L690.38,594.79 L694.93,599.75 L699.54,604.82 L704.21,610.01 L708.95,615.30 L713.74,620.70 L718.60,626.21 L723.51,631.80 L728.48,637.49 L733.49,643.27 L738.56,649.12 L743.66,655.04 L748.81,661.03 L753.99,667.08 L759.20,673.18 L764.44,679.32 L769.70,685.50 L774.97,691.70 L780.26,697.92 L785.55,704.15 L790.84,710.37 L796.13,716.59 L801.40,722.79 L806.66,728.97 L811.90,735.11 L817.11,741.21 L822.29,747.26 L827.44,753.25 L832.54,759.17 L837.61,765.03 L842.62,770.80 L847.59,776.49 L852.50,782.09 L857.36,787.59 L862.15,792.99 L866.89,798.28 L871.56,803.47 L876.17,808.54 L880.72,813.50 L885.20,818.34 L889.61,823.06 L893.96,827.66 L898.25,832.14 L902.48,836.50 L906.64,840.73 L910.75,844.84 L914.80,848.83 L918.80,852.70 L922.75,856.45 L926.65,860.08 L930.51,863.59 L934.33,866.99 L938.11,870.27 L941.86,873.43 L945.58,876.48 L949.27,879.41 L952.95,882.24 L956.62,884.95 L960.28,887.56 L963.95,890.07 L967.62,892.49 L971.31,894.81 L975.01,897.04 L978.75,899.20 L982.51,901.27 L986.32,903.26 L990.17,905.18 L994.08,907.03 L998.03,908.81 L1002.04,910.53 L1006.12,912.18 L1010.26,913.78 L1014.46,915.32 L1018.73,916.81 L1023.06,918.24 L1027.45,919.61 L1031.90,920.94 L1036.40,922.21 L1040.95,923.44 L1045.53,924.61 L1050.14,925.74 L1054.76,926.81 L1059.37,927.84 L1063.97,928.81 L1068.53,929.74 L1073.03,930.61 L1077.45,931.43 L1081.77,932.20 L1085.98,932.91 L1090.03,933.58 L1093.92,934.19 L1097.62,934.74 L1101.11,935.25 L1104.37,935.71 L1107.39,936.11 L1110.16,936.47 L1112.66,936.79 L1114.89,937.06 L1116.86,937.28 L1118.55,937.48 L1119.99,937.63 L1121.18,937.76 L1122.13,937.85 L1122.86,937.93 L1123.40,937.98 L1123.78,938.01 L1124.01,938.03 L1124.13,938.04 L1124.18,938.05 L1124.18,938.05 L1124.18,941.09 L1124.18,941.09 L1124.13,941.09 L1124.01,941.08 L1123.78,941.06 L1123.40,941.03 L1122.86,940.97 L1122.13,940.90 L1121.18,940.81 L1119.99,940.68 L1118.55,940.52 L1116.86,940.33 L1114.89,940.10 L1112.66,939.84 L1110.16,939.52 L1107.39,939.16 L1104.37,938.76 L1101.11,938.30 L1097.62,937.79 L1093.92,937.23 L1090.03,936.62 L1085.98,935.96 L1081.77,935.24 L1077.45,934.48 L1073.03,933.66 L1068.53,932.78 L1063.97,931.86 L1059.37,930.89 L1054.76,929.86 L1050.14,928.79 L1045.53,927.66 L1040.95,926.49 L1036.40,925.26 L1031.90,923.99 L1027.45,922.66 L1023.06,921.28 L1018.73,919.85 L1014.46,918.37 L1010.26,916.83 L1006.12,915.23 L1002.04,913.58 L998.03,911.86 L994.08,910.08 L990.17,908.23 L986.32,906.31 L982.51,904.31 L978.75,902.24 L975.01,900.09 L971.31,897.86 L967.62,895.54 L963.95,893.12 L960.28,890.61 L956.62,888.00 L952.95,885.28 L949.27,882.46 L945.58,879.53 L941.86,876.48 L938.11,873.32 L934.33,870.04 L930.51,866.64 L926.65,863.13 L922.75,859.50 L918.80,855.75 L914.80,851.88 L910.75,847.89 L906.64,843.78 L902.48,839.55 L898.25,835.19 L893.96,830.71 L889.61,826.11 L885.20,821.39 L880.72,816.55 L876.17,811.59 L871.56,806.52 L866.89,801.33 L862.15,796.04 L857.36,790.64 L852.50,785.14 L847.59,779.54 L842.62,773.85 L837.61,768.08 L832.54,762.22 L827.44,756.30 L822.29,750.31 L817.11,744.26 L811.90,738.16 L806.66,732.02 L801.40,725.84 L796.13,719.64 L790.84,713.42 L785.55,707.19 L780.26,700.97 L774.97,694.75 L769.70,688.55 L764.44,682.37 L759.20,676.23 L753.99,670.13 L748.81,664.08 L743.66,658.09 L738.56,652.17 L733.49,646.31 L728.48,640.54 L723.51,634.85 L718.60,629.25 L713.74,623.75 L708.95,618.35 L704.21,613.06 L699.54,607.87 L694.93,602.80 L690.38,597.84 L685.90,593.00 L681.49,588.28 L677.14,583.68 L672.85,579.20 L668.62,574.84 L664.46,570.61 L660.35,566.50 L656.30,562.51 L652.30,558.64 L648.35,554.89 L644.45,551.26 L640.59,547.75 L636.77,544.35 L632.99,541.07 L629.24,537.91 L625.52,534.86 L621.83,531.93 L618.15,529.10 L614.48,526.39 L610.82,523.78 L607.15,521.27 L603.48,518.85 L599.79,516.53 L596.09,514.30 L592.35,512.15 L588.59,510.08 L584.78,508.08 L580.93,506.16 L577.02,504.31 L573.07,502.53 L569.06,500.81 L564.98,499.16 L560.84,497.56 L556.64,496.02 L552.37,494.54 L548.04,493.11 L543.65,491.73 L539.20,490.40 L534.70,489.13 L530.15,487.90 L525.57,486.73 L520.96,485.60 L516.34,484.53 L511.73,483.50 L507.13,482.53 L502.57,481.61 L498.07,480.73 L493.65,479.91 L489.33,479.14 L485.12,478.43 L481.07,477.77 L477.18,477.15 L473.48,476.60 L469.99,476.09 L466.73,475.63 L463.71,475.23 L460.94,474.87 L458.44,474.55 L456.21,474.28 L454.24,474.06 L452.55,473.86 L451.11,473.71 L449.92,473.58 L448.97,473.49 L448.24,473.42 L447.70,473.36 L447.32,473.33 L447.09,473.31 L446.97,473.30 L446.92,473.30 L446.92,473.29Z" fill="#FFFF9D" stroke="#FFFF9D" stroke-width="1.80" stroke-linejoin="round"/>
<path d="M446.92,491.40 L446.92,491.40 L446.97,491.40 L447.09,491.41 L447.32,491.43 L447.70,491.46 L448.24,491.51 L448.97,491.58 L449.92,491.68 L451.11,491.80 L452.55,491.95 L454.24,492.13 L456.21,492.35 L458.44,492.61 L460.94,492.91 L463.71,493.25 L466.73,493.64 L469.99,494.08 L473.48,494.57 L477.18,495.11 L481.07,495.69 L485.12,496.33 L489.33,497.02 L493.65,497.76 L498.07,498.55 L502.57,499.39 L507.13,500.27 L511.73,501.21 L516.34,502.20 L520.96,503.23 L525.57,504.31 L530.15,505.44 L534.70,506.62 L539.20,507.84 L543.65,509.12 L548.04,510.44 L552.37,511.82 L556.64,513.24 L560.84,514.72 L564.98,516.26 L569.06,517.85 L573.07,519.50 L577.02,521.21 L580.93,522.99 L584.78,524.84 L588.59,526.75 L592.35,528.74 L596.09,530.81 L599.79,532.96 L603.48,535.19 L607.15,537.51 L610.82,539.93 L614.48,542.44 L618.15,545.05 L621.83,547.76 L625.52,550.58 L629.24,553.51 L632.99,556.55 L636.77,559.70 L640.59,562.97 L644.45,566.35 L648.35,569.84 L652.30,573.44 L656.30,577.16 L660.35,580.99 L664.46,584.95 L668.62,589.02 L672.85,593.20 L677.14,597.51 L681.49,601.93 L685.90,606.47 L690.38,611.12 L694.93,615.89 L699.54,620.76 L704.21,625.75 L708.95,630.84 L713.74,636.03 L718.60,641.32 L723.51,646.70 L728.48,652.17 L733.49,657.72 L738.56,663.35 L743.66,669.04 L748.81,674.80 L753.99,680.62 L759.20,686.48 L764.44,692.38 L769.70,698.32 L774.97,704.28 L780.26,710.26 L785.55,716.25 L790.84,722.23 L796.13,728.21 L801.40,734.17 L806.66,740.11 L811.90,746.01 L817.11,751.87 L822.29,757.69 L827.44,763.45 L832.54,769.14 L837.61,774.77 L842.62,780.32 L847.59,785.79 L852.50,791.17 L857.36,796.46 L862.15,801.65 L866.89,806.74 L871.56,811.73 L876.17,816.60 L880.72,821.37 L885.20,826.02 L889.61,830.56 L893.96,834.98 L898.25,839.29 L902.48,843.48 L906.64,847.55 L910.75,851.50 L914.80,855.33 L918.80,859.05 L922.75,862.65 L926.65,866.15 L930.51,869.52 L934.33,872.79 L938.11,875.94 L941.86,878.98 L945.58,881.91 L949.27,884.73 L952.95,887.44 L956.62,890.05 L960.28,892.56 L963.95,894.98 L967.62,897.30 L971.31,899.53 L975.01,901.68 L978.75,903.75 L982.51,905.74 L986.32,907.65 L990.17,909.50 L994.08,911.28 L998.03,912.99 L1002.04,914.64 L1006.12,916.23 L1010.26,917.77 L1014.46,919.25 L1018.73,920.68 L1023.06,922.05 L1027.45,923.37 L1031.90,924.65 L1036.40,925.87 L1040.95,927.05 L1045.53,928.18 L1050.14,929.26 L1054.76,930.30 L1059.37,931.28 L1063.97,932.22 L1068.53,933.11 L1073.03,933.94 L1077.45,934.73 L1081.77,935.47 L1085.98,936.16 L1090.03,936.80 L1093.92,937.38 L1097.62,937.92 L1101.11,938.41 L1104.37,938.85 L1107.39,939.24 L1110.16,939.58 L1112.66,939.88 L1114.89,940.14 L1116.86,940.36 L1118.55,940.55 L1119.99,940.70 L1121.18,940.82 L1122.13,940.91 L1122.86,940.98 L1123.40,941.03 L1123.78,941.06 L1124.01,941.08 L1124.13,941.09 L1124.18,941.09 L1124.18,941.09 L1124.18,941.67 L1124.18,941.67 L1124.13,941.66 L1124.01,941.65 L1123.78,941.63 L1123.40,941.60 L1122.86,941.55 L1122.13,941.48 L1121.18,941.39 L1119.99,941.27 L1118.55,941.12 L1116.86,940.93 L1114.89,940.71 L1112.66,940.46 L1110.16,940.15 L1107.39,939.81 L1104.37,939.42 L1101.11,938.98 L1097.62,938.49 L1093.92,937.96 L1090.03,937.37 L1085.98,936.73 L1081.77,936.04 L1077.45,935.30 L1073.03,934.52 L1068.53,933.68 L1063.97,932.79 L1059.37,931.85 L1054.76,930.87 L1050.14,929.83 L1045.53,928.75 L1040.95,927.62 L1036.40,926.45 L1031.90,925.22 L1027.45,923.95 L1023.06,922.62 L1018.73,921.25 L1014.46,919.82 L1010.26,918.34 L1006.12,916.81 L1002.04,915.21 L998.03,913.56 L994.08,911.85 L990.17,910.07 L986.32,908.23 L982.51,906.31 L978.75,904.32 L975.01,902.25 L971.31,900.10 L967.62,897.87 L963.95,895.55 L960.28,893.14 L956.62,890.63 L952.95,888.02 L949.27,885.30 L945.58,882.48 L941.86,879.56 L938.11,876.52 L934.33,873.36 L930.51,870.10 L926.65,866.72 L922.75,863.23 L918.80,859.62 L914.80,855.90 L910.75,852.07 L906.64,848.12 L902.48,844.05 L898.25,839.86 L893.96,835.56 L889.61,831.13 L885.20,826.60 L880.72,821.94 L876.17,817.18 L871.56,812.30 L866.89,807.31 L862.15,802.22 L857.36,797.03 L852.50,791.74 L847.59,786.36 L842.62,780.89 L837.61,775.34 L832.54,769.72 L827.44,764.02 L822.29,758.26 L817.11,752.45 L811.90,746.58 L806.66,740.68 L801.40,734.74 L796.13,728.78 L790.84,722.80 L785.55,716.82 L780.26,710.83 L774.97,704.85 L769.70,698.89 L764.44,692.95 L759.20,687.05 L753.99,681.19 L748.81,675.37 L743.66,669.62 L738.56,663.92 L733.49,658.29 L728.48,652.74 L723.51,647.27 L718.60,641.89 L713.74,636.60 L708.95,631.41 L704.21,626.32 L699.54,621.34 L694.93,616.46 L690.38,611.69 L685.90,607.04 L681.49,602.50 L677.14,598.08 L672.85,593.77 L668.62,589.59 L664.46,585.52 L660.35,581.57 L656.30,577.73 L652.30,574.01 L648.35,570.41 L644.45,566.92 L640.59,563.54 L636.77,560.27 L632.99,557.12 L629.24,554.08 L625.52,551.15 L621.83,548.33 L618.15,545.62 L614.48,543.01 L610.82,540.50 L607.15,538.09 L603.48,535.76 L599.79,533.53 L596.09,531.38 L592.35,529.32 L588.59,527.33 L584.78,525.41 L580.93,523.56 L577.02,521.79 L573.07,520.07 L569.06,518.42 L564.98,516.83 L560.84,515.29 L556.64,513.81 L552.37,512.39 L548.04,511.01 L543.65,509.69 L539.20,508.41 L534.70,507.19 L530.15,506.01 L525.57,504.88 L520.96,503.80 L516.34,502.77 L511.73,501.78 L507.13,500.85 L502.57,499.96 L498.07,499.12 L493.65,498.33 L489.33,497.59 L485.12,496.90 L481.07,496.27 L477.18,495.68 L473.48,495.14 L469.99,494.66 L466.73,494.22 L463.71,493.83 L460.94,493.48 L458.44,493.18 L456.21,492.92 L454.24,492.70 L452.55,492.52 L451.11,492.37 L449.92,492.25 L448.97,492.15 L448.24,492.08 L447.70,492.04 L447.32,492.00 L447.09,491.98 L446.97,491.97 L446.92,491.97 L446.92,491.97Z" fill="#FFFF9D" stroke="#FFFF9D" stroke-width="1.80" stroke-linejoin="round"/>
<path d="M446.92,787.70 L446.92,787.70 L446.97,787.70 L447.09,787.71 L447.32,787.71 L447.70,787.72 L448.24,787.74 L448.97,787.77 L449.92,787.80 L451.11,787.84 L452.55,787.89 L454.24,787.95 L456.21,788.03 L458.44,788.12 L460.94,788.22 L463.71,788.34 L466.73,788.47 L469.99,788.62 L473.48,788.79 L477.18,788.97 L481.07,789.17 L485.12,789.39 L489.33,789.63 L493.65,789.88 L498.07,790.15 L502.57,790.44 L507.13,790.74 L511.73,791.06 L516.34,791.40 L520.96,791.75 L525.57,792.12 L530.15,792.51 L534.70,792.91 L539.20,793.33 L543.65,793.77 L548.04,794.22 L552.37,794.69 L556.64,795.18 L560.84,795.69 L564.98,796.21 L569.06,796.76 L573.07,797.32 L577.02,797.91 L580.93,798.52 L584.78,799.15 L588.59,799.81 L592.35,800.49 L596.09,801.20 L599.79,801.93 L603.48,802.70 L607.15,803.49 L610.82,804.32 L614.48,805.18 L618.15,806.07 L621.83,807.00 L625.52,807.96 L629.24,808.97 L632.99,810.01 L636.77,811.09 L640.59,812.21 L644.45,813.36 L648.35,814.56 L652.30,815.79 L656.30,817.07 L660.35,818.38 L664.46,819.73 L668.62,821.12 L672.85,822.56 L677.14,824.03 L681.49,825.55 L685.90,827.10 L690.38,828.69 L694.93,830.32 L699.54,831.99 L704.21,833.70 L708.95,835.44 L713.74,837.22 L718.60,839.03 L723.51,840.87 L728.48,842.75 L733.49,844.65 L738.56,846.57 L743.66,848.52 L748.81,850.50 L753.99,852.49 L759.20,854.49 L764.44,856.51 L769.70,858.55 L774.97,860.59 L780.26,862.63 L785.55,864.68 L790.84,866.73 L796.13,868.78 L801.40,870.82 L806.66,872.85 L811.90,874.88 L817.11,876.88 L822.29,878.87 L827.44,880.85 L832.54,882.80 L837.61,884.72 L842.62,886.62 L847.59,888.49 L852.50,890.34 L857.36,892.15 L862.15,893.92 L866.89,895.67 L871.56,897.37 L876.17,899.04 L880.72,900.68 L885.20,902.27 L889.61,903.82 L893.96,905.34 L898.25,906.81 L902.48,908.24 L906.64,909.64 L910.75,910.99 L914.80,912.30 L918.80,913.58 L922.75,914.81 L926.65,916.01 L930.51,917.16 L934.33,918.28 L938.11,919.36 L941.86,920.40 L945.58,921.40 L949.27,922.37 L952.95,923.30 L956.62,924.19 L960.28,925.05 L963.95,925.88 L967.62,926.67 L971.31,927.44 L975.01,928.17 L978.75,928.88 L982.51,929.56 L986.32,930.22 L990.17,930.85 L994.08,931.46 L998.03,932.04 L1002.04,932.61 L1006.12,933.15 L1010.26,933.68 L1014.46,934.19 L1018.73,934.68 L1023.06,935.15 L1027.45,935.60 L1031.90,936.04 L1036.40,936.46 L1040.95,936.86 L1045.53,937.25 L1050.14,937.62 L1054.76,937.97 L1059.37,938.31 L1063.97,938.63 L1068.53,938.93 L1073.03,939.22 L1077.45,939.49 L1081.77,939.74 L1085.98,939.98 L1090.03,940.19 L1093.92,940.40 L1097.62,940.58 L1101.11,940.75 L1104.37,940.90 L1107.39,941.03 L1110.16,941.15 L1112.66,941.25 L1114.89,941.34 L1116.86,941.42 L1118.55,941.48 L1119.99,941.53 L1121.18,941.57 L1122.13,941.60 L1122.86,941.63 L1123.40,941.64 L1123.78,941.65 L1124.01,941.66 L1124.13,941.67 L1124.18,941.67 L1124.18,941.67 L1124.18,965.10 L1124.18,965.10 L1124.13,965.10 L1124.01,965.10 L1123.78,965.09 L1123.40,965.08 L1122.86,965.06 L1122.13,965.04 L1121.18,965.01 L1119.99,964.97 L1118.55,964.92 L1116.86,964.85 L1114.89,964.78 L1112.66,964.69 L1110.16,964.59 L1107.39,964.47 L1104.37,964.33 L1101.11,964.18 L1097.62,964.02 L1093.92,963.83 L1090.03,963.63 L1085.98,963.41 L1081.77,963.18 L1077.45,962.93 L1073.03,962.66 L1068.53,962.37 L1063.97,962.06 L1059.37,961.74 L1054.76,961.41 L1050.14,961.05 L1045.53,960.68 L1040.95,960.30 L1036.40,959.89 L1031.90,959.47 L1027.45,959.04 L1023.06,958.58 L1018.73,958.11 L1014.46,957.62 L1010.26,957.12 L1006.12,956.59 L1002.04,956.05 L998.03,955.48 L994.08,954.90 L990.17,954.29 L986.32,953.65 L982.51,953.00 L978.75,952.32 L975.01,951.61 L971.31,950.87 L967.62,950.11 L963.95,949.31 L960.28,948.49 L956.62,947.63 L952.95,946.74 L949.27,945.81 L945.58,944.84 L941.86,943.84 L938.11,942.80 L934.33,941.72 L930.51,940.60 L926.65,939.44 L922.75,938.25 L918.80,937.01 L914.80,935.74 L910.75,934.43 L906.64,933.08 L902.48,931.68 L898.25,930.25 L893.96,928.77 L889.61,927.26 L885.20,925.71 L880.72,924.11 L876.17,922.48 L871.56,920.81 L866.89,919.11 L862.15,917.36 L857.36,915.58 L852.50,913.77 L847.59,911.93 L842.62,910.06 L837.61,908.16 L832.54,906.23 L827.44,904.28 L822.29,902.31 L817.11,900.32 L811.90,898.31 L806.66,896.29 L801.40,894.26 L796.13,892.22 L790.84,890.17 L785.55,888.12 L780.26,886.07 L774.97,884.03 L769.70,881.98 L764.44,879.95 L759.20,877.93 L753.99,875.92 L748.81,873.93 L743.66,871.96 L738.56,870.01 L733.49,868.08 L728.48,866.18 L723.51,864.31 L718.60,862.47 L713.74,860.66 L708.95,858.88 L704.21,857.14 L699.54,855.43 L694.93,853.76 L690.38,852.13 L685.90,850.54 L681.49,848.98 L677.14,847.47 L672.85,846.00 L668.62,844.56 L664.46,843.17 L660.35,841.82 L656.30,840.50 L652.30,839.23 L648.35,838.00 L644.45,836.80 L640.59,835.64 L636.77,834.53 L632.99,833.45 L629.24,832.40 L625.52,831.40 L621.83,830.44 L618.15,829.51 L614.48,828.61 L610.82,827.76 L607.15,826.93 L603.48,826.13 L599.79,825.37 L596.09,824.63 L592.35,823.93 L588.59,823.25 L584.78,822.59 L580.93,821.96 L577.02,821.35 L573.07,820.76 L569.06,820.20 L564.98,819.65 L560.84,819.13 L556.64,818.62 L552.37,818.13 L548.04,817.66 L543.65,817.21 L539.20,816.77 L534.70,816.35 L530.15,815.95 L525.57,815.56 L520.96,815.19 L516.34,814.84 L511.73,814.50 L507.13,814.18 L502.57,813.88 L498.07,813.59 L493.65,813.32 L489.33,813.07 L485.12,812.83 L481.07,812.61 L477.18,812.41 L473.48,812.23 L469.99,812.06 L466.73,811.91 L463.71,811.78 L460.94,811.66 L458.44,811.55 L456.21,811.47 L454.24,811.39 L452.55,811.33 L451.11,811.28 L449.92,811.24 L448.97,811.20 L448.24,811.18 L447.70,811.16 L447.32,811.15 L447.09,811.14 L446.97,811.14 L446.92,811.14 L446.92,811.14Z" fill="#FFFF9D" stroke="#FFFF9D" stroke-width="1.80" stroke-linejoin="round"/>
<path d="M446.92,965.10 L446.92,965.10 L446.97,965.10 L447.09,965.10 L447.32,965.10 L447.70,965.10 L448.24,965.10 L448.97,965.10 L449.92,965.10 L451.11,965.10 L452.55,965.10 L454.24,965.10 L456.21,965.10 L458.44,965.10 L460.94,965.10 L463.71,965.10 L466.73,965.10 L469.99,965.10 L473.48,965.10 L477.18,965.10 L481.07,965.10 L485.12,965.10 L489.33,965.10 L493.65,965.10 L498.07,965.10 L502.57,965.10 L507.13,965.10 L511.73,965.10 L516.34,965.10 L520.96,965.10 L525.57,965.10 L530.15,965.10 L534.70,965.10 L539.20,965.10 L543.65,965.10 L548.04,965.10 L552.37,965.10 L556.64,965.10 L560.84,965.10 L564.98,965.10 L569.06,965.10 L573.07,965.10 L577.02,965.10 L580.93,965.10 L584.78,965.10 L588.59,965.10 L592.35,965.10 L596.09,965.10 L599.79,965.10 L603.48,965.10 L607.15,965.10 L610.82,965.10 L614.48,965.10 L618.15,965.10 L621.83,965.10 L625.52,965.10 L629.24,965.10 L632.99,965.10 L636.77,965.10 L640.59,965.10 L644.45,965.10 L648.35,965.10 L652.30,965.10 L656.30,965.10 L660.35,965.10 L664.46,965.10 L668.62,965.10 L672.85,965.10 L677.14,965.10 L681.49,965.10 L685.90,965.10 L690.38,965.10 L694.93,965.10 L699.54,965.10 L704.21,965.10 L708.95,965.10 L713.74,965.10 L718.60,965.10 L723.51,965.10 L728.48,965.10 L733.49,965.10 L738.56,965.10 L743.66,965.10 L748.81,965.10 L753.99,965.10 L759.20,965.10 L764.44,965.10 L769.70,965.10 L774.97,965.10 L780.26,965.10 L785.55,965.10 L790.84,965.10 L796.13,965.10 L801.40,965.10 L806.66,965.10 L811.90,965.10 L817.11,965.10 L822.29,965.10 L827.44,965.10 L832.54,965.10 L837.61,965.10 L842.62,965.10 L847.59,965.10 L852.50,965.10 L857.36,965.10 L862.15,965.10 L866.89,965.10 L871.56,965.10 L876.17,965.10 L880.72,965.10 L885.20,965.10 L889.61,965.10 L893.96,965.10 L898.25,965.10 L902.48,965.10 L906.64,965.10 L910.75,965.10 L914.80,965.10 L918.80,965.10 L922.75,965.10 L926.65,965.10 L930.51,965.10 L934.33,965.10 L938.11,965.10 L941.86,965.10 L945.58,965.10 L949.27,965.10 L952.95,965.10 L956.62,965.10 L960.28,965.10 L963.95,965.10 L967.62,965.10 L971.31,965.10 L975.01,965.10 L978.75,965.10 L982.51,965.10 L986.32,965.10 L990.17,965.10 L994.08,965.10 L998.03,965.10 L1002.04,965.10 L1006.12,965.10 L1010.26,965.10 L1014.46,965.10 L1018.73,965.10 L1023.06,965.10 L1027.45,965.10 L1031.90,965.10 L1036.40,965.10 L1040.95,965.10 L1045.53,965.10 L1050.14,965.10 L1054.76,965.10 L1059.37,965.10 L1063.97,965.10 L1068.53,965.10 L1073.03,965.10 L1077.45,965.10 L1081.77,965.10 L1085.98,965.10 L1090.03,965.10 L1093.92,965.10 L1097.62,965.10 L1101.11,965.10 L1104.37,965.10 L1107.39,965.10 L1110.16,965.10 L1112.66,965.10 L1114.89,965.10 L1116.86,965.10 L1118.55,965.10 L1119.99,965.10 L1121.18,965.10 L1122.13,965.10 L1122.86,965.10 L1123.40,965.10 L1123.78,965.10 L1124.01,965.10 L1124.13,965.10 L1124.18,965.10 L1124.18,965.10 L1124.18,991.40 L1124.18,991.40 L1124.13,991.40 L1124.01,991.40 L1123.78,991.40 L1123.40,991.40 L1122.86,991.40 L1122.13,991.40 L1121.18,991.40 L1119.99,991.40 L1118.55,991.40 L1116.86,991.40 L1114.89,991.40 L1112.66,991.40 L1110.16,991.40 L1107.39,991.40 L1104.37,991.40 L1101.11,991.40 L1097.62,991.40 L1093.92,991.40 L1090.03,991.40 L1085.98,991.40 L1081.77,991.40 L1077.45,991.40 L1073.03,991.40 L1068.53,991.40 L1063.97,991.40 L1059.37,991.40 L1054.76,991.40 L1050.14,991.40 L1045.53,991.40 L1040.95,991.40 L1036.40,991.40 L1031.90,991.40 L1027.45,991.40 L1023.06,991.40 L1018.73,991.40 L1014.46,991.40 L1010.26,991.40 L1006.12,991.40 L1002.04,991.40 L998.03,991.40 L994.08,991.40 L990.17,991.40 L986.32,991.40 L982.51,991.40 L978.75,991.40 L975.01,991.40 L971.31,991.40 L967.62,991.40 L963.95,991.40 L960.28,991.40 L956.62,991.40 L952.95,991.40 L949.27,991.40 L945.58,991.40 L941.86,991.40 L938.11,991.40 L934.33,991.40 L930.51,991.40 L926.65,991.40 L922.75,991.40 L918.80,991.40 L914.80,991.40 L910.75,991.40 L906.64,991.40 L902.48,991.40 L898.25,991.40 L893.96,991.40 L889.61,991.40 L885.20,991.40 L880.72,991.40 L876.17,991.40 L871.56,991.40 L866.89,991.40 L862.15,991.40 L857.36,991.40 L852.50,991.40 L847.59,991.40 L842.62,991.40 L837.61,991.40 L832.54,991.40 L827.44,991.40 L822.29,991.40 L817.11,991.40 L811.90,991.40 L806.66,991.40 L801.40,991.40 L796.13,991.40 L790.84,991.40 L785.55,991.40 L780.26,991.40 L774.97,991.40 L769.70,991.40 L764.44,991.40 L759.20,991.40 L753.99,991.40 L748.81,991.40 L743.66,991.40 L738.56,991.40 L733.49,991.40 L728.48,991.40 L723.51,991.40 L718.60,991.40 L713.74,991.40 L708.95,991.40 L704.21,991.40 L699.54,991.40 L694.93,991.40 L690.38,991.40 L685.90,991.40 L681.49,991.40 L677.14,991.40 L672.85,991.40 L668.62,991.40 L664.46,991.40 L660.35,991.40 L656.30,991.40 L652.30,991.40 L648.35,991.40 L644.45,991.40 L640.59,991.40 L636.77,991.40 L632.99,991.40 L629.24,991.40 L625.52,991.40 L621.83,991.40 L618.15,991.40 L614.48,991.40 L610.82,991.40 L607.15,991.40 L603.48,991.40 L599.79,991.40 L596.09,991.40 L592.35,991.40 L588.59,991.40 L584.78,991.40 L580.93,991.40 L577.02,991.40 L573.07,991.40 L569.06,991.40 L564.98,991.40 L560.84,991.40 L556.64,991.40 L552.37,991.40 L548.04,991.40 L543.65,991.40 L539.20,991.40 L534.70,991.40 L530.15,991.40 L525.57,991.40 L520.96,991.40 L516.34,991.40 L511.73,991.40 L507.13,991.40 L502.57,991.40 L498.07,991.40 L493.65,991.40 L489.33,991.40 L485.12,991.40 L481.07,991.40 L477.18,991.40 L473.48,991.40 L469.99,991.40 L466.73,991.40 L463.71,991.40 L460.94,991.40 L458.44,991.40 L456.21,991.40 L454.24,991.40 L452.55,991.40 L451.11,991.40 L449.92,991.40 L448.97,991.40 L448.24,991.40 L447.70,991.40 L447.32,991.40 L447.09,991.40 L446.97,991.40 L446.92,991.40 L446.92,991.40Z" fill="#FFFF9D" stroke="#FFFF9D" stroke-width="1.80" stroke-linejoin="round"/>
<rect x="108.28" y="112.39" width="338.63" height="229.42" fill="#fff" stroke="#000" stroke-width="2.0" stroke-linejoin="round"/>
<rect x="108.28" y="341.82" width="338.63" height="131.48" fill="#fff" stroke="#000" stroke-width="2.0" stroke-linejoin="round"/>
<rect x="108.28" y="473.29" width="338.63" height="18.67" fill="#fff" stroke="#000" stroke-width="2.0" stroke-linejoin="round"/>
<rect x="108.28" y="491.97" width="338.63" height="319.17" fill="#fff" stroke="#000" stroke-width="2.0" stroke-linejoin="round"/>
<rect x="108.28" y="811.14" width="338.63" height="180.26" fill="#fff" stroke="#000" stroke-width="2.0" stroke-linejoin="round"/>
<rect x="1124.18" y="112.39" width="338.63" height="416.92" fill="#fff" stroke="#000" stroke-width="2.0" stroke-linejoin="round"/>
<rect x="1124.18" y="529.32" width="338.63" height="207.70" fill="#fff" stroke="#000" stroke-width="2.0" stroke-linejoin="round"/>
<rect x="1124.18" y="737.02" width="338.63" height="192.46" fill="#fff" stroke="#000" stroke-width="2.0" stroke-linejoin="round"/>
<rect x="1124.18" y="929.47" width="338.63" height="61.93" fill="#fff" stroke="#000" stroke-width="2.0" stroke-linejoin="round"/>
<text x="277.60" y="234.56" font-size="21.00" text-anchor="middle" fill="#000">Annalena Baerbock</text>
<text x="277.60" y="415.01" font-size="21.00" text-anchor="middle" fill="#000">Armin Laschet</text>
<text x="277.60" y="490.09" font-size="21.00" text-anchor="middle" fill="#000">no response</text>
<text x="277.60" y="659.01" font-size="21.00" text-anchor="middle" fill="#000">Olaf Scholz</text>
<text x="277.60" y="908.72" font-size="21.00" text-anchor="middle" fill="#000">draw</text>
<text x="1293.50" y="328.31" font-size="21.00" text-anchor="middle" fill="#000">Annalena Baerbock</text>
<text x="1293.50" y="640.62" font-size="21.00" text-anchor="middle" fill="#000">Armin Laschet</text>
<text x="1293.50" y="840.70" font-size="21.00" text-anchor="middle" fill="#000">Olaf Scholz</text>
<text x="1293.50" y="967.89" font-size="21.00" text-anchor="middle" fill="#000">draw</text>
<line x1="69.2" x2="74.60" y1="991.40" y2="991.40" stroke="#373737" stroke-width="2.0"/>
<text x="65.2" y="997.48" font-size="16.98" text-anchor="end" fill="#525252">0</text>
<line x1="69.2" x2="74.60" y1="800.85" y2="800.85" stroke="#373737" stroke-width="2.0"/>
<text x="65.2" y="806.93" font-size="16.98" text-anchor="end" fill="#525252">1000</text>
<line x1="69.2" x2="74.60" y1="610.30" y2="610.30" stroke="#373737" stroke-width="2.0"/>
<text x="65.2" y="616.38" font-size="16.98" text-anchor="end" fill="#525252">2000</text>
<line x1="69.2" x2="74.60" y1="419.75" y2="419.75" stroke="#373737" stroke-width="2.0"/>
<text x="65.2" y="425.83" font-size="16.98" text-anchor="end" fill="#525252">3000</text>
<line x1="69.2" x2="74.60" y1="229.20" y2="229.20" stroke="#373737" stroke-width="2.0"/>
<text x="65.2" y="235.28" font-size="16.98" text-anchor="end" fill="#525252">4000</text>
<line x1="277.60" x2="277.60" y1="1035.20" y2="1040.80" stroke="#373737" stroke-width="2.0"/>
<text x="277.60" y="1057.0" font-size="16.98" text-anchor="middle" fill="#525252">pre-victor</text>
<line x1="1293.50" x2="1293.50" y1="1035.20" y2="1040.80" stroke="#373737" stroke-width="2.0"/>
<text x="1293.50" y="1057.0" font-size="16.98" text-anchor="middle" fill="#525252">post-victor</text>
<text x="73.8" y="22.4" font-size="25.33" fill="#000">Change of winner perception pre- and post-debate</text>
<text x="73.8" y="53.3" font-size="21.13" fill="#000">Switch from one candidate to another - color = post-debate alignment</text>
<text x="785.30" y="1080.8" font-size="21.17" text-anchor="middle" fill="#000">switch during the debate</text>
<text x="0" y="0" font-size="21.1" text-anchor="middle" fill="#000" transform="translate(18.4,552.40) rotate(-90)">count</text>
</g></svg></body></html>
